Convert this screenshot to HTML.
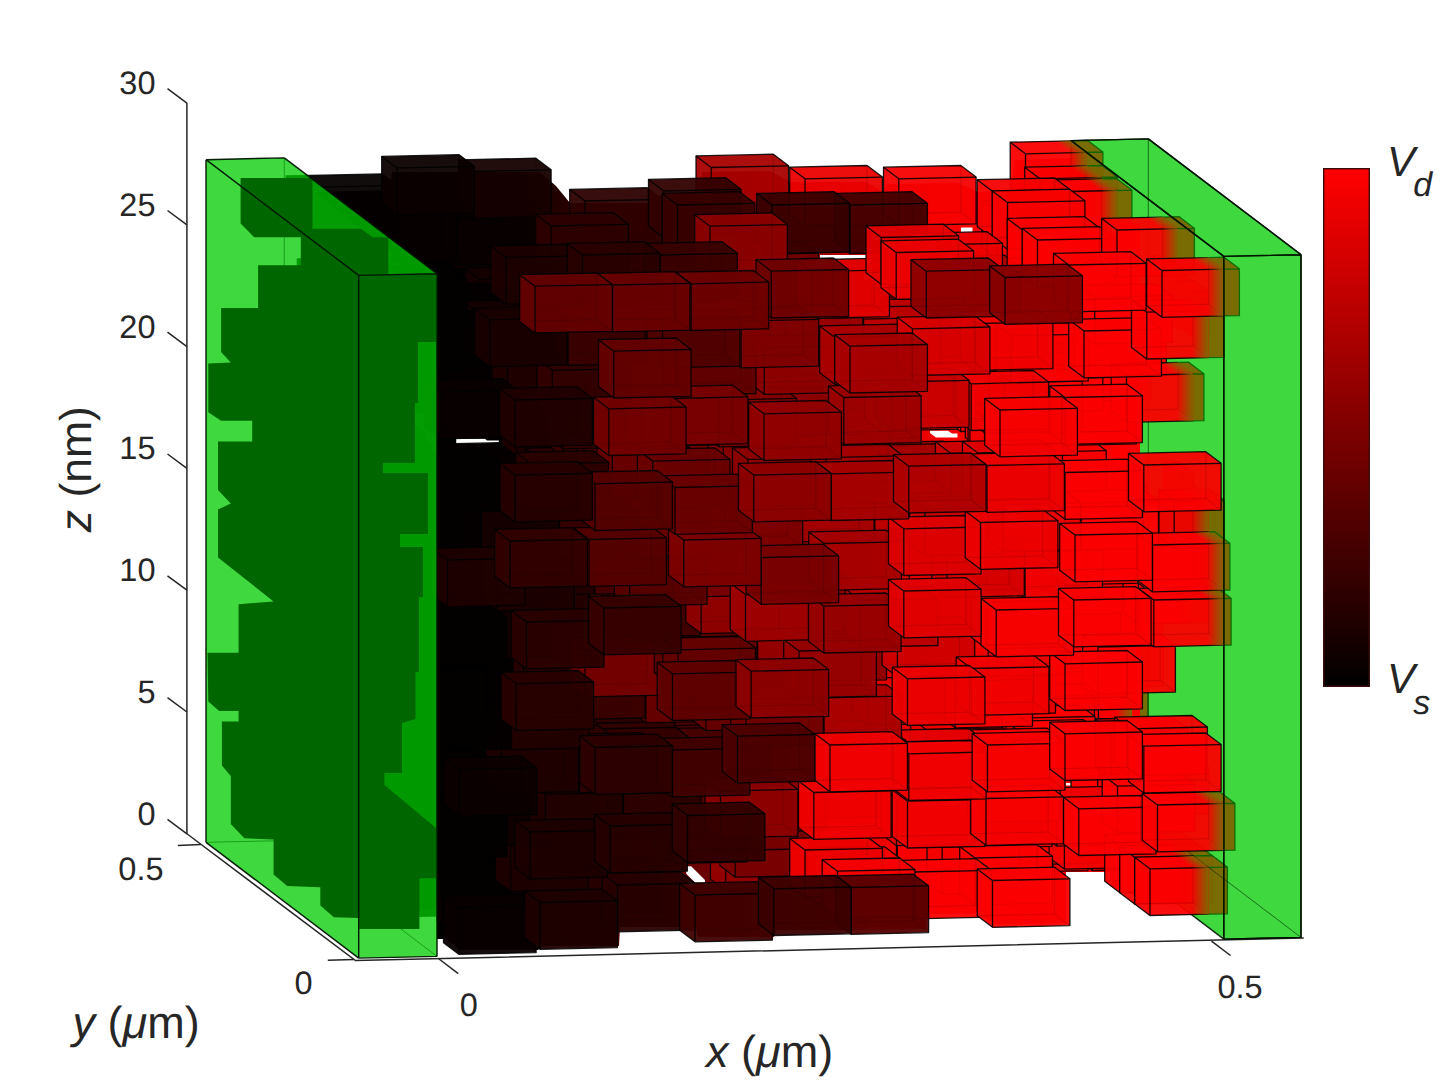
<!DOCTYPE html>
<html lang="en"><head><meta charset="utf-8"><title>Nanoparticle network potential</title>
<style>
html,body{margin:0;padding:0;background:#fff;}
body{width:1440px;height:1080px;overflow:hidden;}
svg{display:block;}
.bx .b{stroke:#000;stroke-opacity:.88;stroke-width:1.3;fill-opacity:.95;stroke-linejoin:round}
.bx .f{fill-opacity:.95}
.bx .e{stroke:#000;stroke-opacity:.88;stroke-width:1.3;fill:none}
.bx .h{stroke:#000;stroke-opacity:.13;stroke-width:1;fill:none}
text{font-family:"Liberation Sans",Arial,sans-serif;fill:#262626;text-rendering:geometricPrecision}
</style></head><body>
<svg width="1440" height="1080" viewBox="0 0 1440 1080">
<defs><linearGradient id="cb" x1="0" y1="0" x2="0" y2="1"><stop offset="0" stop-color="#ff0000"/><stop offset="1" stop-color="#000000"/></linearGradient>
<clipPath id="cl"><polygon points="358.7,958.1 437,956.4 437,273.7 284.3,157.9 206,159.7 206,842.3"/></clipPath>
<linearGradient id="og"><stop offset="0" stop-color="#806600" stop-opacity="0"/><stop offset="1" stop-color="#806600" stop-opacity="1"/></linearGradient>
<linearGradient id="bk" gradientUnits="userSpaceOnUse" x1="437" y1="0" x2="1140" y2="0"><stop offset="0.000" stop-color="#000000"/><stop offset="0.090" stop-color="#060000"/><stop offset="0.175" stop-color="#230000"/><stop offset="0.260" stop-color="#460000"/><stop offset="0.374" stop-color="#690000"/><stop offset="0.488" stop-color="#8c0000"/><stop offset="0.573" stop-color="#b40000"/><stop offset="0.659" stop-color="#e10000"/><stop offset="0.744" stop-color="#fa0000"/><stop offset="1.000" stop-color="#ff0000"/></linearGradient>
<linearGradient id="g0" gradientUnits="userSpaceOnUse" x1="1070.1" y1="0" x2="1086.3" y2="0" href="#og"/><linearGradient id="g1" gradientUnits="userSpaceOnUse" x1="1070.1" y1="152.8" x2="1076.2" y2="144.7" href="#og"/><linearGradient id="g2" gradientUnits="userSpaceOnUse" x1="1085.3" y1="0" x2="1101.6" y2="0" href="#og"/><linearGradient id="g3" gradientUnits="userSpaceOnUse" x1="1085.3" y1="177.8" x2="1091.4" y2="169.7" href="#og"/><linearGradient id="g4" gradientUnits="userSpaceOnUse" x1="1100.6" y1="0" x2="1116.9" y2="0" href="#og"/><linearGradient id="g5" gradientUnits="userSpaceOnUse" x1="1100.6" y1="190.8" x2="1106.7" y2="182.8" href="#og"/><linearGradient id="g6" gradientUnits="userSpaceOnUse" x1="1115.9" y1="0" x2="1132.1" y2="0" href="#og"/><linearGradient id="g7" gradientUnits="userSpaceOnUse" x1="1115.9" y1="823.2" x2="1122" y2="815.2" href="#og"/><linearGradient id="g8" gradientUnits="userSpaceOnUse" x1="1115.9" y1="0" x2="1132.1" y2="0" href="#og"/><linearGradient id="g9" gradientUnits="userSpaceOnUse" x1="1115.9" y1="766.1" x2="1122" y2="758" href="#og"/><linearGradient id="g10" gradientUnits="userSpaceOnUse" x1="1115.9" y1="0" x2="1132.1" y2="0" href="#og"/><linearGradient id="g11" gradientUnits="userSpaceOnUse" x1="1115.9" y1="671.7" x2="1122" y2="663.6" href="#og"/><linearGradient id="g12" gradientUnits="userSpaceOnUse" x1="1131.2" y1="0" x2="1147.4" y2="0" href="#og"/><linearGradient id="g13" gradientUnits="userSpaceOnUse" x1="1131.2" y1="353.2" x2="1137.3" y2="345.1" href="#og"/><linearGradient id="g14" gradientUnits="userSpaceOnUse" x1="1161.7" y1="0" x2="1178" y2="0" href="#og"/><linearGradient id="g15" gradientUnits="userSpaceOnUse" x1="1161.7" y1="845.1" x2="1167.8" y2="837" href="#og"/><linearGradient id="g16" gradientUnits="userSpaceOnUse" x1="1161.7" y1="0" x2="1178" y2="0" href="#og"/><linearGradient id="g17" gradientUnits="userSpaceOnUse" x1="1161.7" y1="229" x2="1167.8" y2="221" href="#og"/><linearGradient id="g18" gradientUnits="userSpaceOnUse" x1="1177" y1="0" x2="1193.2" y2="0" href="#og"/><linearGradient id="g19" gradientUnits="userSpaceOnUse" x1="1177" y1="856.6" x2="1183.1" y2="848.5" href="#og"/><linearGradient id="g20" gradientUnits="userSpaceOnUse" x1="1177" y1="0" x2="1193.2" y2="0" href="#og"/><linearGradient id="g21" gradientUnits="userSpaceOnUse" x1="1177" y1="576.4" x2="1183.1" y2="568.4" href="#og"/><linearGradient id="g22" gradientUnits="userSpaceOnUse" x1="1177" y1="0" x2="1193.2" y2="0" href="#og"/><linearGradient id="g23" gradientUnits="userSpaceOnUse" x1="1177" y1="374.4" x2="1183.1" y2="366.3" href="#og"/><linearGradient id="g24" gradientUnits="userSpaceOnUse" x1="1192.3" y1="0" x2="1208.5" y2="0" href="#og"/><linearGradient id="g25" gradientUnits="userSpaceOnUse" x1="1192.3" y1="867.8" x2="1198.4" y2="859.8" href="#og"/><linearGradient id="g26" gradientUnits="userSpaceOnUse" x1="1192.3" y1="0" x2="1208.5" y2="0" href="#og"/><linearGradient id="g27" gradientUnits="userSpaceOnUse" x1="1192.3" y1="546.4" x2="1198.4" y2="538.4" href="#og"/><linearGradient id="g28" gradientUnits="userSpaceOnUse" x1="1192.3" y1="0" x2="1208.5" y2="0" href="#og"/><linearGradient id="g29" gradientUnits="userSpaceOnUse" x1="1192.3" y1="501.1" x2="1198.4" y2="493.1" href="#og"/><linearGradient id="g30" gradientUnits="userSpaceOnUse" x1="1192.3" y1="0" x2="1208.5" y2="0" href="#og"/><linearGradient id="g31" gradientUnits="userSpaceOnUse" x1="1192.3" y1="311.2" x2="1198.4" y2="303.2" href="#og"/><linearGradient id="g32" gradientUnits="userSpaceOnUse" x1="1207.5" y1="0" x2="1223.8" y2="0" href="#og"/><linearGradient id="g33" gradientUnits="userSpaceOnUse" x1="1207.5" y1="803.9" x2="1213.6" y2="795.9" href="#og"/><linearGradient id="g34" gradientUnits="userSpaceOnUse" x1="1207.5" y1="0" x2="1223.8" y2="0" href="#og"/><linearGradient id="g35" gradientUnits="userSpaceOnUse" x1="1207.5" y1="598.8" x2="1213.6" y2="590.8" href="#og"/><linearGradient id="g36" gradientUnits="userSpaceOnUse" x1="1207.5" y1="0" x2="1223.8" y2="0" href="#og"/><linearGradient id="g37" gradientUnits="userSpaceOnUse" x1="1207.5" y1="543.8" x2="1213.6" y2="535.7" href="#og"/><linearGradient id="g38" gradientUnits="userSpaceOnUse" x1="1207.5" y1="0" x2="1223.8" y2="0" href="#og"/><linearGradient id="g39" gradientUnits="userSpaceOnUse" x1="1207.5" y1="269.5" x2="1213.6" y2="261.5" href="#og"/>
</defs>
<rect width="1440" height="1080" fill="#fff"/>
<g stroke="#262626" stroke-width="1.5" fill="none" stroke-linecap="butt">
<path d="M186.9,103.1V833.75L355.5,960.6L1303.75,938"/>
<path d="M186.9,833.8 l-19.4,-14.4"/>
<path d="M186.9,712 l-19.4,-14.4"/>
<path d="M186.9,590.2 l-19.4,-14.4"/>
<path d="M186.9,468.4 l-19.4,-14.4"/>
<path d="M186.9,346.6 l-19.4,-14.4"/>
<path d="M186.9,224.9 l-19.4,-14.4"/>
<path d="M186.9,103.1 l-19.4,-14.4"/>
<path d="M200.8,844.4L177.8,845.5"/><path d="M354,959.6L327.8,960.3"/>
<path d="M438.75,958.75l19.5,14.8"/><path d="M1211.5,941.2l19,14.3"/>
</g>
<polygon points="1223.8,939.1 1301,937.4 1301,254.7 1148.3,138.9 1071,140.6 1071,823.3" fill="#00cc00" fill-opacity=".5"/>
<g class="bx">
<path class="f" fill="#f80000" d="M1086.3,685.9 1102.1,685.6 1102.1,638.8 1086.8,627.3 1071,627.6 1071,674.4Z"/><path class="e" d="M1086.3,685.9 1102.1,685.6 1102.1,638.8 1086.8,627.3 1071,627.6M1086.3,639.2 1102.1,638.8"/>
<path class="f" fill="#f10000" d="M1086.3,631.4 1102.1,631.1 1102.1,584.3 1086.8,572.7 1071,573.1 1071,619.8Z"/><path class="e" d="M1086.3,631.4 1102.1,631.1 1102.1,584.3 1086.8,572.7 1071,573.1M1086.3,584.6 1102.1,584.3"/>
<path class="f" fill="#ef0000" d="M1086.3,588.2 1102.1,587.8 1102.1,541.1 1086.8,529.5 1071,529.8 1071,576.6Z"/><path class="e" d="M1086.3,588.2 1102.1,587.8 1102.1,541.1 1086.8,529.5 1071,529.8M1086.3,541.4 1102.1,541.1"/>
<path class="f" fill="#f20000" d="M1086.3,393.1 1102.1,392.7 1102.1,346 1086.8,334.4 1071,334.7 1071,381.5Z"/><path class="e" d="M1086.3,393.1 1102.1,392.7 1102.1,346 1086.8,334.4 1071,334.7M1086.3,346.3 1102.1,346"/>
<path class="f" fill="#f90000" d="M1086.3,296.3 1102.1,296 1102.1,249.2 1086.8,237.6 1071,238 1071,284.7Z"/><path class="e" d="M1086.3,296.3 1102.1,296 1102.1,249.2 1086.8,237.6 1071,238M1086.3,249.6 1102.1,249.2"/>
<path class="f" fill="#fa0000" d="M1086.3,199.2 1102.9,198.8 1102.9,152 1087.6,140.5 1071,140.8 1071,187.6Z"/><path class="e" d="M1086.3,199.2 1102.9,198.8 1102.9,152 1087.6,140.5 1071,140.8M1086.3,152.4 1102.9,152"/>
<path class="f" fill="#ec0000" d="M1101.6,846.5 1117.4,846.1 1117.4,799.4 1102.1,787.8 1086.3,788.1 1086.3,834.9Z"/><path class="e" d="M1101.6,846.5 1117.4,846.1 1117.4,799.4 1102.1,787.8 1086.3,788.1M1101.6,799.7 1117.4,799.4"/>
<path class="f" fill="#e80000" d="M1101.6,743.2 1117.4,742.9 1117.4,696.1 1102.1,684.5 1086.3,684.9 1086.3,731.6Z"/><path class="e" d="M1101.6,743.2 1117.4,742.9 1117.4,696.1 1102.1,684.5 1086.3,684.9M1101.6,696.4 1117.4,696.1"/>
<path class="f" fill="#ff0000" d="M1101.6,647.1 1117.4,646.7 1117.4,600 1102.1,588.4 1086.3,588.7 1086.3,635.5Z"/><path class="e" d="M1101.6,647.1 1117.4,646.7 1117.4,600 1102.1,588.4 1086.3,588.7M1101.6,600.3 1117.4,600"/>
<path class="f" fill="#f30000" d="M1101.6,595.6 1117.4,595.3 1117.4,548.5 1102.1,537 1086.3,537.3 1086.3,584.1Z"/><path class="e" d="M1101.6,595.6 1117.4,595.3 1117.4,548.5 1102.1,537 1086.3,537.3M1101.6,548.9 1117.4,548.5"/>
<path class="f" fill="#cf0000" d="M1101.6,358 1117.4,357.7 1117.4,310.9 1102.1,299.3 1086.3,299.7 1086.3,346.4Z"/><path class="e" d="M1101.6,358 1117.4,357.7 1117.4,310.9 1102.1,299.3 1086.3,299.7M1101.6,311.2 1117.4,310.9"/>
<path class="f" fill="#d10000" d="M1101.6,309.3 1114.1,309.1 1114.1,262.3 1098.8,250.7 1086.3,251 1086.3,297.8Z"/><path class="e" d="M1101.6,309.3 1114.1,309.1 1114.1,262.3 1098.8,250.7 1086.3,251M1101.6,262.6 1114.1,262.3"/>
<path class="f" fill="#fa0000" d="M1101.6,224.2 1117.4,223.8 1117.4,177 1102.1,165.5 1086.3,165.8 1086.3,212.6Z"/><path class="e" d="M1101.6,224.2 1117.4,223.8 1117.4,177 1102.1,165.5 1086.3,165.8M1101.6,177.4 1117.4,177"/>
<path class="f" fill="#fe0000" d="M1116.9,858 1132.7,857.7 1132.7,810.9 1117.4,799.4 1101.6,799.7 1101.6,846.5Z"/><path class="e" d="M1116.9,858 1132.7,857.7 1132.7,810.9 1117.4,799.4 1101.6,799.7M1116.9,811.3 1132.7,810.9"/>
<path class="f" fill="#f40000" d="M1116.9,707.3 1132.7,707 1132.7,660.2 1117.4,648.6 1101.6,649 1101.6,695.7Z"/><path class="e" d="M1116.9,707.3 1132.7,707 1132.7,660.2 1117.4,648.6 1101.6,649M1116.9,660.6 1132.7,660.2"/>
<path class="f" fill="#f50000" d="M1116.9,655.3 1119.3,655.2 1119.3,608.5 1104,596.9 1101.6,596.9 1101.6,643.7Z"/><path class="e" d="M1116.9,655.3 1119.3,655.2 1119.3,608.5 1104,596.9 1101.6,596.9M1116.9,608.5 1119.3,608.5"/>
<path class="f" fill="#fd0000" d="M1116.9,608.3 1132,608 1132,561.2 1116.8,549.6 1101.6,550 1101.6,596.7Z"/><path class="e" d="M1116.9,608.3 1132,608 1132,561.2 1116.8,549.6 1101.6,550M1116.9,561.5 1132,561.2"/>
<path class="f" fill="#f20000" d="M1116.9,563.7 1127.9,563.4 1127.9,516.7 1112.6,505.1 1101.6,505.3 1101.6,552.1Z"/><path class="e" d="M1116.9,563.7 1127.9,563.4 1127.9,516.7 1112.6,505.1 1101.6,505.3M1116.9,516.9 1127.9,516.7"/>
<path class="f" fill="#f60000" d="M1116.9,521.3 1120.5,521.3 1120.5,474.5 1105.3,462.9 1101.6,463 1101.6,509.8Z"/><path class="e" d="M1116.9,521.3 1120.5,521.3 1120.5,474.5 1105.3,462.9 1101.6,463M1116.9,474.6 1120.5,474.5"/>
<path class="f" fill="#f70000" d="M1116.9,371.5 1132.7,371.1 1132.7,324.4 1117.4,312.8 1101.6,313.1 1101.6,359.9Z"/><path class="e" d="M1116.9,371.5 1132.7,371.1 1132.7,324.4 1117.4,312.8 1101.6,313.1M1116.9,324.7 1132.7,324.4"/>
<path class="f" fill="#f00000" d="M1116.9,329.2 1132.7,328.9 1132.7,282.1 1117.4,270.6 1101.6,270.9 1101.6,317.7Z"/><path class="e" d="M1116.9,329.2 1132.7,328.9 1132.7,282.1 1117.4,270.6 1101.6,270.9M1116.9,282.5 1132.7,282.1"/>
<path class="f" fill="#fa0000" d="M1116.9,237.2 1131.9,236.9 1131.9,190.1 1116.6,178.6 1101.6,178.9 1101.6,225.7Z"/><path class="e" d="M1116.9,237.2 1131.9,236.9 1131.9,190.1 1116.6,178.6 1101.6,178.9M1116.9,190.5 1131.9,190.1"/>
<path class="f" fill="#ff0000" d="M1132.1,869.6 1147.9,869.3 1147.9,822.5 1132.7,810.9 1116.9,811.3 1116.9,858Z"/><path class="e" d="M1132.1,869.6 1147.9,869.3 1147.9,822.5 1132.7,810.9 1116.9,811.3M1132.1,822.9 1147.9,822.5"/>
<path class="f" fill="#ea0000" d="M1132.1,861.7 1147.9,861.3 1147.9,814.5 1132.7,803 1116.9,803.3 1116.9,850.1Z"/><path class="e" d="M1132.1,861.7 1147.9,861.3 1147.9,814.5 1132.7,803 1116.9,803.3M1132.1,814.9 1147.9,814.5"/>
<path class="f" fill="#e90000" d="M1132.1,812.5 1147.9,812.1 1147.9,765.4 1132.7,753.8 1116.9,754.1 1116.9,800.9Z"/><path class="e" d="M1132.1,812.5 1147.9,812.1 1147.9,765.4 1132.7,753.8 1116.9,754.1M1132.1,765.7 1147.9,765.4"/>
<path class="f" fill="#ff0000" d="M1132.1,766.1 1147.9,765.7 1147.9,719 1132.7,707.4 1116.9,707.8 1116.9,754.5Z"/><path class="e" d="M1132.1,766.1 1147.9,765.7 1147.9,719 1132.7,707.4 1116.9,707.8M1132.1,719.3 1147.9,719"/>
<path class="f" fill="#fa0000" d="M1132.1,718.1 1147.9,717.7 1147.9,671 1132.7,659.4 1116.9,659.7 1116.9,706.5Z"/><path class="e" d="M1132.1,718.1 1147.9,717.7 1147.9,671 1132.7,659.4 1116.9,659.7M1132.1,671.3 1147.9,671"/>
<path class="f" fill="#f90000" d="M1132.1,626 1147.9,625.6 1147.9,578.9 1132.7,567.3 1116.9,567.6 1116.9,614.4Z"/><path class="e" d="M1132.1,626 1147.9,625.6 1147.9,578.9 1132.7,567.3 1116.9,567.6M1132.1,579.2 1147.9,578.9"/>
<path class="f" fill="#fc0000" d="M1132.1,570.3 1144.6,570 1144.6,523.2 1129.3,511.7 1116.9,511.9 1116.9,558.7Z"/><path class="e" d="M1132.1,570.3 1144.6,570 1144.6,523.2 1129.3,511.7 1116.9,511.9M1132.1,523.5 1144.6,523.2"/>
<path class="f" fill="#ff0000" d="M1132.1,532.4 1147.9,532 1147.9,485.3 1132.7,473.7 1116.9,474 1116.9,520.8Z"/><path class="e" d="M1132.1,532.4 1147.9,532 1147.9,485.3 1132.7,473.7 1116.9,474M1132.1,485.6 1147.9,485.3"/>
<path class="f" fill="#ed0000" d="M1132.1,381.9 1147.9,381.5 1147.9,334.8 1132.7,323.2 1116.9,323.5 1116.9,370.3Z"/><path class="e" d="M1132.1,381.9 1147.9,381.5 1147.9,334.8 1132.7,323.2 1116.9,323.5M1132.1,335.1 1147.9,334.8"/>
<path class="f" fill="#d70000" d="M1132.1,338.8 1133,338.8 1133,292 1117.7,280.5 1116.9,280.5 1116.9,327.2Z"/><path class="e" d="M1132.1,338.8 1133,338.8 1133,292 1117.7,280.5 1116.9,280.5M1132.1,292 1133,292"/>
<path class="f" fill="#f20000" d="M1147.4,776.9 1163.2,776.5 1163.2,729.7 1147.9,718.2 1132.1,718.5 1132.1,765.3Z"/><path class="e" d="M1147.4,776.9 1163.2,776.5 1163.2,729.7 1147.9,718.2 1132.1,718.5M1147.4,730.1 1163.2,729.7"/>
<path class="f" fill="#ff0000" d="M1147.4,686.5 1163.2,686.1 1163.2,639.4 1147.9,627.8 1132.1,628.1 1132.1,674.9Z"/><path class="e" d="M1147.4,686.5 1163.2,686.1 1163.2,639.4 1147.9,627.8 1132.1,628.1M1147.4,639.7 1163.2,639.4"/>
<path class="f" fill="#fa0000" d="M1147.4,633.3 1163.2,632.9 1163.2,586.1 1147.9,574.6 1132.1,574.9 1132.1,621.7Z"/><path class="e" d="M1147.4,633.3 1163.2,632.9 1163.2,586.1 1147.9,574.6 1132.1,574.9M1147.4,586.5 1163.2,586.1"/>
<path class="f" fill="#fe0000" d="M1147.4,399.6 1150.9,399.5 1150.9,352.8 1135.7,341.2 1132.1,341.3 1132.1,388Z"/><path class="e" d="M1147.4,399.6 1150.9,399.5 1150.9,352.8 1135.7,341.2 1132.1,341.3M1147.4,352.8 1150.9,352.8"/>
<path class="f" fill="#ff0000" d="M1162.7,888.3 1178.5,887.9 1178.5,841.2 1163.2,829.6 1147.4,829.9 1147.4,876.7Z"/><path class="e" d="M1162.7,888.3 1178.5,887.9 1178.5,841.2 1163.2,829.6 1147.4,829.9M1162.7,841.5 1178.5,841.2"/>
<path class="f" fill="#f70000" d="M1162.7,789.2 1178.5,788.8 1178.5,742.1 1163.2,730.5 1147.4,730.8 1147.4,777.6Z"/><path class="e" d="M1162.7,789.2 1178.5,788.8 1178.5,742.1 1163.2,730.5 1147.4,730.8M1162.7,742.4 1178.5,742.1"/>
<path class="f" fill="#f50000" d="M1162.7,605.6 1178.5,605.2 1178.5,558.5 1163.2,546.9 1147.4,547.2 1147.4,594Z"/><path class="e" d="M1162.7,605.6 1178.5,605.2 1178.5,558.5 1163.2,546.9 1147.4,547.2M1162.7,558.8 1178.5,558.5"/>
<path class="f" fill="#fb0000" d="M1162.7,555.7 1178.5,555.4 1178.5,508.6 1163.2,497 1147.4,497.4 1147.4,544.1Z"/><path class="e" d="M1162.7,555.7 1178.5,555.4 1178.5,508.6 1163.2,497 1147.4,497.4M1162.7,509 1178.5,508.6"/>
<path class="f" fill="#fc0000" d="M1162.7,314.6 1178.5,314.2 1178.5,267.5 1163.2,255.9 1147.4,256.2 1147.4,303Z"/><path class="e" d="M1162.7,314.6 1178.5,314.2 1178.5,267.5 1163.2,255.9 1147.4,256.2M1162.7,267.8 1178.5,267.5"/>
<path class="f" fill="#fa0000" d="M1178,891.5 1197.4,891.1 1197.4,844.3 1182.1,832.7 1162.7,833.2 1162.7,879.9Z"/><path class="e" d="M1178,891.5 1197.4,891.1 1197.4,844.3 1182.1,832.7 1162.7,833.2M1178,844.7 1197.4,844.3"/>
<path class="f" fill="#ff0000" d="M1178,808.1 1193.8,807.8 1193.8,761 1178.5,749.5 1162.7,749.8 1162.7,796.6Z"/><path class="e" d="M1178,808.1 1193.8,807.8 1193.8,761 1178.5,749.5 1162.7,749.8M1178,761.4 1193.8,761"/>
<path class="f" fill="#fc0000" d="M1178,613.1 1193.8,612.8 1193.8,566 1178.5,554.5 1162.7,554.8 1162.7,601.6Z"/><path class="e" d="M1178,613.1 1193.8,612.8 1193.8,566 1178.5,554.5 1162.7,554.8M1178,566.4 1193.8,566"/>
<path class="f" fill="#ed0000" d="M1178,570.2 1193.8,569.9 1193.8,523.1 1178.5,511.5 1162.7,511.9 1162.7,558.6Z"/><path class="e" d="M1178,570.2 1193.8,569.9 1193.8,523.1 1178.5,511.5 1162.7,511.9M1178,523.5 1193.8,523.1"/>
<path class="f" fill="#ec0000" d="M1178,520.5 1193.8,520.2 1193.8,473.4 1178.5,461.8 1162.7,462.2 1162.7,508.9Z"/><path class="e" d="M1178,520.5 1193.8,520.2 1193.8,473.4 1178.5,461.8 1162.7,462.2M1178,473.8 1193.8,473.4"/>
<path class="f" fill="#ff0000" d="M1178,329.6 1193.8,329.3 1193.8,282.5 1178.5,270.9 1162.7,271.3 1162.7,318Z"/><path class="e" d="M1178,329.6 1193.8,329.3 1193.8,282.5 1178.5,270.9 1162.7,271.3M1178,282.8 1193.8,282.5"/>
<path class="f" fill="#fa0000" d="M1178,275.4 1194.4,275.1 1194.4,228.3 1179.1,216.7 1162.7,217.1 1162.7,263.8Z"/><path class="e" d="M1178,275.4 1194.4,275.1 1194.4,228.3 1179.1,216.7 1162.7,217.1M1178,228.7 1194.4,228.3"/>
<path class="f" fill="#fa0000" d="M1193.2,903 1212.4,902.6 1212.4,855.8 1197.1,844.2 1178,844.6 1178,891.4Z"/><path class="e" d="M1193.2,903 1212.4,902.6 1212.4,855.8 1197.1,844.2 1178,844.6M1193.2,856.2 1212.4,855.8"/>
<path class="f" fill="#f80000" d="M1193.2,814.4 1209,814 1209,767.3 1193.8,755.7 1178,756.1 1178,802.8Z"/><path class="e" d="M1193.2,814.4 1209,814 1209,767.3 1193.8,755.7 1178,756.1M1193.2,767.6 1209,767.3"/>
<path class="f" fill="#ff0000" d="M1193.2,622.8 1209,622.5 1209,575.7 1193.8,564.1 1178,564.5 1178,611.2Z"/><path class="e" d="M1193.2,622.8 1209,622.5 1209,575.7 1193.8,564.1 1178,564.5M1193.2,576 1209,575.7"/>
<path class="f" fill="#ff0000" d="M1193.2,581 1209,580.7 1209,533.9 1193.8,522.3 1178,522.7 1178,569.4Z"/><path class="e" d="M1193.2,581 1209,580.7 1209,533.9 1193.8,522.3 1178,522.7M1193.2,534.2 1209,533.9"/>
<path class="f" fill="#f90000" d="M1193.2,534.4 1196.1,534.4 1196.1,487.6 1180.9,476 1178,476.1 1178,522.8Z"/><path class="e" d="M1193.2,534.4 1196.1,534.4 1196.1,487.6 1180.9,476 1178,476.1M1193.2,487.7 1196.1,487.6"/>
<path class="f" fill="#fa0000" d="M1193.2,420.8 1203.9,420.6 1203.9,373.8 1188.6,362.2 1178,362.5 1178,409.2Z"/><path class="e" d="M1193.2,420.8 1203.9,420.6 1203.9,373.8 1188.6,362.2 1178,362.5M1193.2,374 1203.9,373.8"/>
<path class="f" fill="#f40000" d="M1193.2,338.9 1209,338.6 1209,291.8 1193.8,280.3 1178,280.6 1178,327.4Z"/><path class="e" d="M1193.2,338.9 1209,338.6 1209,291.8 1193.8,280.3 1178,280.6M1193.2,292.2 1209,291.8"/>
<path class="f" fill="#fa0000" d="M1208.5,914.2 1227.4,913.8 1227.4,867.1 1212.1,855.5 1193.2,855.9 1193.2,902.7Z"/><path class="e" d="M1208.5,914.2 1227.4,913.8 1227.4,867.1 1212.1,855.5 1193.2,855.9M1208.5,867.5 1227.4,867.1"/>
<path class="f" fill="#ff0000" d="M1208.5,592.8 1224.3,592.5 1224.3,545.7 1209,534.1 1193.2,534.5 1193.2,581.3Z"/><path class="e" d="M1208.5,592.8 1224.3,592.5 1224.3,545.7 1209,534.1 1193.2,534.5M1208.5,546.1 1224.3,545.7"/>
<path class="f" fill="#ef0000" d="M1208.5,547.5 1224.3,547.2 1224.3,500.4 1209,488.9 1193.2,489.2 1193.2,536Z"/><path class="e" d="M1208.5,547.5 1224.3,547.2 1224.3,500.4 1209,488.9 1193.2,489.2M1208.5,500.8 1224.3,500.4"/>
<path class="f" fill="#fa0000" d="M1208.5,357.7 1224.1,357.3 1224.1,310.5 1208.9,299 1193.2,299.3 1193.2,346.1Z"/><path class="e" d="M1208.5,357.7 1224.1,357.3 1224.1,310.5 1208.9,299 1193.2,299.3M1208.5,310.9 1224.1,310.5"/>
<path class="f" fill="#fa0000" d="M1223.8,850.3 1234.9,850.1 1234.9,803.3 1219.6,791.7 1208.5,792 1208.5,838.7Z"/><path class="e" d="M1223.8,850.3 1234.9,850.1 1234.9,803.3 1219.6,791.7 1208.5,792M1223.8,803.5 1234.9,803.3"/>
<path class="f" fill="#fa0000" d="M1223.8,645.2 1231.1,645.1 1231.1,598.3 1215.8,586.7 1208.5,586.9 1208.5,633.6Z"/><path class="e" d="M1223.8,645.2 1231.1,645.1 1231.1,598.3 1215.8,586.7 1208.5,586.9M1223.8,598.5 1231.1,598.3"/>
<path class="f" fill="#fa0000" d="M1223.8,590.2 1229.9,590.1 1229.9,543.3 1214.6,531.7 1208.5,531.9 1208.5,578.6Z"/><path class="e" d="M1223.8,590.2 1229.9,590.1 1229.9,543.3 1214.6,531.7 1208.5,531.9M1223.8,543.4 1229.9,543.3"/>
<path class="f" fill="#fa0000" d="M1223.8,315.9 1239.4,315.6 1239.4,268.8 1224.1,257.2 1208.5,257.6 1208.5,304.3Z"/><path class="e" d="M1223.8,315.9 1239.4,315.6 1239.4,268.8 1224.1,257.2 1208.5,257.6M1223.8,269.1 1239.4,268.8"/>
</g>
<polygon points="1223.8,939.1 1301,937.4 1301,254.7 1148.3,138.9 1071,140.6 1071,823.3" fill="#00cc00" fill-opacity=".5"/>
<path fill="url(#bk)" fill-rule="evenodd" d="M437,292 316,192 390,190 392,172 540,172 556,186 570,203 650,203 652,196 700,194 702,172 770,171 790,182 866,182 884,192 886,184 958,183 978,192 1012,190 1014,160 1080,158 1080,180 1100,182 1100,222 1140,224 1140,898 1110,886 1110,872 1066,872 1066,923 994,924 980,914 926,914 926,929 852,930 776,930 774,937 698,937 696,927 620,927 619,946 542,946 538,950 460,950 446,939 437,939ZM456.2,438.8 485,438.8 487,440.5 498.8,440.5 498.8,442.5 485,443.8 456.2,443.8ZM820,255 866,255 866,260 820,260ZM930,430.8 948,430.8 952,433.5 957.5,433.5 957.5,437.5 936,437.5 930,433ZM961,227.5 972.5,227.5 972.5,232.5 961,232.5ZM1066,783 1071,783 1071,785.5 1066,785.5ZM686.2,866.2 691.2,866.2 705,880 705,882.5 695,882.5 686.2,873.8Z"/>
<path fill="none" stroke="#001400" stroke-opacity=".9" stroke-width="1.4" d="M1223.8,939.1 1301,937.4M1223.8,939.1 1071,823.3M1223.8,939.1 1223.8,256.4M1223.8,256.4 1301,254.7M1223.8,256.4 1071,140.6M1071,823.3 1071,140.6M1071,140.6 1148.3,138.9M1301,937.4 1301,254.7M1301,254.7 1148.3,138.9"/>
<path fill="none" stroke="#002800" stroke-opacity=".6" stroke-width="1" d="M1071,823.3 1148.3,821.6M1301,937.4 1148.3,821.6M1148.3,821.6 1148.3,138.9"/>
<g class="bx">
<path class="b" fill="#030000" d="M327.5,837 404.9,835.3 404.9,788.6 389.6,777 312.2,778.7 312.2,825.5Z"/><path class="e" d="M327.5,837 327.5,790.3 404.9,788.6M327.5,790.3 312.2,778.7"/>
<path class="b" fill="#030000" d="M299.7,791.1 355.1,789.9 355.1,743.2 339.9,731.6 284.5,732.8 284.5,779.6Z"/><path class="e" d="M299.7,791.1 299.7,744.4 355.1,743.2M299.7,744.4 284.5,732.8"/>
<path class="b" fill="#030000" d="M299.7,743.7 340.3,742.8 340.3,696 325,684.4 284.5,685.3 284.5,732.1Z"/><path class="e" d="M299.7,743.7 299.7,696.9 340.3,696M299.7,696.9 284.5,685.3"/>
<path class="b" fill="#030000" d="M319.3,698.7 396.6,697 396.6,650.2 381.4,638.6 304,640.3 304,687.1Z"/><path class="e" d="M319.3,698.7 319.3,651.9 396.6,650.2M319.3,651.9 304,640.3"/>
<path class="b" fill="#030000" d="M323.3,602.4 400.7,600.7 400.7,554 385.4,542.4 308.1,544.1 308.1,590.9Z"/><path class="e" d="M323.3,602.4 323.3,555.7 400.7,554M323.3,555.7 308.1,544.1"/>
<path class="b" fill="#030000" d="M299.7,553 361.7,551.7 361.7,504.9 346.4,493.3 284.5,494.7 284.5,541.5Z"/><path class="e" d="M299.7,553 299.7,506.3 361.7,504.9M299.7,506.3 284.5,494.7"/>
<path class="b" fill="#030000" d="M299.7,508 360.7,506.7 360.7,459.9 345.4,448.3 284.5,449.7 284.5,496.4Z"/><path class="e" d="M299.7,508 299.7,461.2 360.7,459.9M299.7,461.2 284.5,449.7"/>
<path class="b" fill="#030000" d="M299.7,360.4 365.5,358.9 365.5,312.2 350.2,300.6 284.5,302 284.5,348.8Z"/><path class="e" d="M299.7,360.4 299.7,313.6 365.5,312.2M299.7,313.6 284.5,302"/>
<path class="b" fill="#030000" d="M312.6,317.4 390,315.7 390,268.9 374.7,257.3 297.3,259 297.3,305.8Z"/><path class="e" d="M312.6,317.4 312.6,270.6 390,268.9M312.6,270.6 297.3,259"/>
<path class="b" fill="#030000" d="M390.7,315.7 468.1,314 468.1,267.2 452.8,255.6 375.5,257.3 375.5,304.1Z"/><path class="e" d="M390.7,315.7 390.7,268.9 468.1,267.2M390.7,268.9 375.5,257.3"/>
<path class="b" fill="#100000" d="M468.9,311.5 546.3,309.8 546.3,263.1 531,251.5 453.6,253.2 453.6,300Z"/><path class="e" d="M468.9,311.5 468.9,264.8 546.3,263.1M468.9,264.8 453.6,253.2"/>
<path class="b" fill="#f40000" d="M997.3,258.6 1074.7,256.9 1074.7,210.1 1059.4,198.6 982,200.3 982,247Z"/><path class="e" d="M997.3,258.6 997.3,211.8 1074.7,210.1M997.3,211.8 982,200.3"/>
<path class="b" fill="#080000" d="M456,264.8 533.4,263.1 533.4,216.3 518.1,204.7 440.7,206.4 440.7,253.2Z"/><path class="e" d="M456,264.8 456,218 533.4,216.3M456,218 440.7,206.4"/><path class="h" d="M440.7,253.2 518.1,251.5 533.4,263.1M518.1,251.5 518.1,204.7"/>
<path class="b" fill="#060000" d="M379,261.8 456.4,260.1 456.4,213.3 441.1,201.7 363.7,203.4 363.7,250.2Z"/><path class="e" d="M379,261.8 379,215 456.4,213.3M379,215 363.7,203.4"/><path class="h" d="M363.7,250.2 441.1,248.5 456.4,260.1M441.1,248.5 441.1,201.7"/>
<path class="b" fill="#040000" d="M301.5,234.4 397.4,232.3 397.4,185.5 382.2,173.9 286.2,176 286.2,222.8Z"/><path class="e" d="M301.5,234.4 301.5,187.6 397.4,185.5M301.5,187.6 286.2,176"/><path class="h" d="M286.2,222.8 382.2,220.7 397.4,232.3M382.2,220.7 382.2,173.9"/>
<path class="b" fill="#a80000" d="M711.2,214.3 788.6,212.6 788.6,165.8 773.4,154.2 696,155.9 696,202.7Z"/><path class="e" d="M711.2,214.3 711.2,167.5 788.6,165.8M711.2,167.5 696,155.9"/><path class="h" d="M696,202.7 773.4,201 788.6,212.6M773.4,201 773.4,154.2"/>
<path class="b" fill="#160000" d="M473.8,218.3 551.1,216.6 551.1,169.8 535.9,158.2 458.5,159.9 458.5,206.7Z"/><path class="e" d="M473.8,218.3 473.8,171.5 551.1,169.8M473.8,171.5 458.5,159.9"/><path class="h" d="M458.5,206.7 535.9,205 551.1,216.6M535.9,205 535.9,158.2"/>
<path class="b" fill="#0c0000" d="M397,214.8 474.4,213.1 474.4,166.3 459.1,154.7 381.7,156.4 381.7,203.2Z"/><path class="e" d="M397,214.8 397,168 474.4,166.3M397,168 381.7,156.4"/><path class="h" d="M381.7,203.2 459.1,201.5 474.4,213.1M459.1,201.5 459.1,154.7"/>
<path class="f" fill="#fa0000" d="M1025.5,200.5 1086.3,199.2 1086.3,152.4 1071,140.8 1010.2,142.2 1010.2,188.9Z"/><path class="e" d="M1071,140.8 1010.2,142.2 1010.2,188.9 1025.5,200.5 1086.3,199.2M1025.5,200.5 1025.5,153.8 1086.3,152.4M1025.5,153.8 1010.2,142.2"/><path class="h" d="M1010.2,188.9 1071,187.6 1086.3,199.2M1071,187.6 1071,140.8"/>
<polygon fill="url(#g0)" points="1070.1,199.5 1086.3,199.2 1086.3,152.4 1070.1,152.8"/><polygon fill="url(#g1)" points="1070.1,152.8 1086.3,152.4 1071,140.8 1054.8,141.2"/>
<path class="b" fill="#030000" d="M343.2,863.1 420.6,861.4 420.6,814.7 405.3,803.1 327.9,804.8 327.9,851.6Z"/><path class="e" d="M343.2,863.1 343.2,816.4 420.6,814.7M343.2,816.4 327.9,804.8"/>
<path class="b" fill="#030000" d="M334.5,808.7 411.9,807 411.9,760.3 396.6,748.7 319.3,750.4 319.3,797.1Z"/><path class="e" d="M334.5,808.7 334.5,762 411.9,760.3M334.5,762 319.3,750.4"/>
<path class="b" fill="#030000" d="M321.5,755.7 398.9,754 398.9,707.3 383.6,695.7 306.2,697.4 306.2,744.1Z"/><path class="e" d="M321.5,755.7 321.5,709 398.9,707.3M321.5,709 306.2,697.4"/>
<path class="b" fill="#030000" d="M315,667.7 363.3,666.7 363.3,619.9 348,608.3 299.7,609.4 299.7,656.2Z"/><path class="e" d="M315,667.7 315,621 363.3,619.9M315,621 299.7,609.4"/>
<path class="b" fill="#030000" d="M316.1,615.9 393.4,614.2 393.4,567.4 378.2,555.8 300.8,557.5 300.8,604.3Z"/><path class="e" d="M316.1,615.9 316.1,569.1 393.4,567.4M316.1,569.1 300.8,557.5"/>
<path class="b" fill="#030000" d="M329.9,515.6 407.2,513.9 407.2,467.2 392,455.6 314.6,457.3 314.6,504.1Z"/><path class="e" d="M329.9,515.6 329.9,468.9 407.2,467.2M329.9,468.9 314.6,457.3"/>
<path class="b" fill="#a40000" d="M881.4,501.3 958.8,499.6 958.8,452.8 943.5,441.2 866.1,442.9 866.1,489.7Z"/><path class="e" d="M881.4,501.3 881.4,454.5 958.8,452.8M881.4,454.5 866.1,442.9"/>
<path class="b" fill="#030000" d="M318.1,467.2 395.5,465.5 395.5,418.7 380.2,407.2 302.9,408.9 302.9,455.6Z"/><path class="e" d="M318.1,467.2 318.1,420.4 395.5,418.7M318.1,420.4 302.9,408.9"/>
<path class="b" fill="#030000" d="M315,422.1 360.8,421.1 360.8,374.4 345.5,362.8 299.7,363.8 299.7,410.6Z"/><path class="e" d="M315,422.1 315,375.4 360.8,374.4M315,375.4 299.7,363.8"/>
<path class="b" fill="#030000" d="M315,380.9 375.2,379.6 375.2,332.8 359.9,321.3 299.7,322.6 299.7,369.3Z"/><path class="e" d="M315,380.9 315,334.2 375.2,332.8M315,334.2 299.7,322.6"/>
<path class="b" fill="#0e0000" d="M463.7,327.1 541,325.4 541,278.6 525.8,267 448.4,268.7 448.4,315.5Z"/><path class="e" d="M463.7,327.1 463.7,280.3 541,278.6M463.7,280.3 448.4,268.7"/>
<path class="b" fill="#030000" d="M315,329 384.7,327.5 384.7,280.7 369.5,269.2 299.7,270.7 299.7,317.5Z"/><path class="e" d="M315,329 315,282.3 384.7,280.7M315,282.3 299.7,270.7"/>
<path class="b" fill="#a90000" d="M942.5,315.2 1019.9,313.5 1019.9,266.8 1004.6,255.2 927.3,256.9 927.3,303.7Z"/><path class="e" d="M942.5,315.2 942.5,268.5 1019.9,266.8M942.5,268.5 927.3,256.9"/>
<path class="b" fill="#030000" d="M385.5,324.4 462.9,322.7 462.9,276 447.6,264.4 370.2,266.1 370.2,312.9Z"/><path class="e" d="M385.5,324.4 385.5,277.7 462.9,276M385.5,277.7 370.2,266.1"/>
<path class="f" fill="#fa0000" d="M1040,225.5 1101.6,224.2 1101.6,177.4 1086.3,165.8 1024.7,167.2 1024.7,213.9Z"/><path class="e" d="M1086.3,165.8 1024.7,167.2 1024.7,213.9 1040,225.5 1101.6,224.2M1040,225.5 1040,178.8 1101.6,177.4M1040,178.8 1024.7,167.2"/><path class="h" d="M1024.7,213.9 1086.3,212.6 1101.6,224.2M1086.3,212.6 1086.3,165.8"/>
<polygon fill="url(#g2)" points="1085.3,224.5 1101.6,224.2 1101.6,177.4 1085.3,177.8"/><polygon fill="url(#g3)" points="1085.3,177.8 1101.6,177.4 1086.3,165.8 1070.1,166.2"/>
<path class="b" fill="#f50000" d="M898.8,225.5 976.1,223.8 976.1,177.1 960.9,165.5 883.5,167.2 883.5,213.9Z"/><path class="e" d="M898.8,225.5 898.8,178.8 976.1,177.1M898.8,178.8 883.5,167.2"/><path class="h" d="M883.5,213.9 960.9,212.2 976.1,223.8M960.9,212.2 960.9,165.5"/>
<path class="b" fill="#eb0000" d="M805,225.5 882.4,223.8 882.4,177.1 867.1,165.5 789.7,167.2 789.7,213.9Z"/><path class="e" d="M805,225.5 805,178.8 882.4,177.1M805,178.8 789.7,167.2"/><path class="h" d="M789.7,213.9 867.1,212.2 882.4,223.8M867.1,212.2 867.1,165.5"/>
<path class="b" fill="#030000" d="M347,866.2 424.4,864.5 424.4,817.8 409.1,806.2 331.8,807.9 331.8,854.6Z"/><path class="e" d="M347,866.2 347,819.5 424.4,817.8M347,819.5 331.8,807.9"/>
<path class="b" fill="#030000" d="M330.3,771.1 365.3,770.4 365.3,723.6 350,712 315,712.8 315,759.6Z"/><path class="e" d="M330.3,771.1 330.3,724.4 365.3,723.6M330.3,724.4 315,712.8"/>
<path class="b" fill="#030000" d="M330.3,672.7 363.6,672 363.6,625.2 348.3,613.6 315,614.4 315,661.1Z"/><path class="e" d="M330.3,672.7 330.3,626 363.6,625.2M330.3,626 315,614.4"/>
<path class="b" fill="#030000" d="M330.3,628.1 367.8,627.3 367.8,580.5 352.5,568.9 315,569.7 315,616.5Z"/><path class="e" d="M330.3,628.1 330.3,581.3 367.8,580.5M330.3,581.3 315,569.7"/>
<path class="b" fill="#030000" d="M330.3,582.6 402.2,581 402.2,534.3 386.9,522.7 315,524.3 315,571Z"/><path class="e" d="M330.3,582.6 330.3,535.8 402.2,534.3M330.3,535.8 315,524.3"/>
<path class="b" fill="#030000" d="M330.3,538.7 387.6,537.5 387.6,490.7 372.4,479.1 315,480.4 315,527.1Z"/><path class="e" d="M330.3,538.7 330.3,492 387.6,490.7M330.3,492 315,480.4"/>
<path class="b" fill="#030000" d="M348.4,482.4 425.7,480.7 425.7,433.9 410.5,422.3 333.1,424 333.1,470.8Z"/><path class="e" d="M348.4,482.4 348.4,435.6 425.7,433.9M348.4,435.6 333.1,424"/>
<path class="b" fill="#030000" d="M330.3,340.3 401.3,338.8 401.3,292 386,280.5 315,282 315,328.8Z"/><path class="e" d="M330.3,340.3 330.3,293.6 401.3,292M330.3,293.6 315,282"/>
<path class="f" fill="#fa0000" d="M1070,238.3 1116.9,237.2 1116.9,190.5 1101.6,178.9 1054.7,179.9 1054.7,226.7Z"/><path class="e" d="M1101.6,178.9 1054.7,179.9 1054.7,226.7 1070,238.3 1116.9,237.2M1070,238.3 1070,191.5 1116.9,190.5M1070,191.5 1054.7,179.9"/><path class="h" d="M1054.7,226.7 1101.6,225.7 1116.9,237.2M1101.6,225.7 1101.6,178.9"/>
<polygon fill="url(#g4)" points="1100.6,237.6 1116.9,237.2 1116.9,190.5 1100.6,190.8"/><polygon fill="url(#g5)" points="1100.6,190.8 1116.9,190.5 1101.6,178.9 1085.3,179.3"/>
<path class="b" fill="#2d0000" d="M585,247.8 662.4,246.1 662.4,199.3 647.1,187.7 569.7,189.4 569.7,236.2Z"/><path class="e" d="M585,247.8 585,201 662.4,199.3M585,201 569.7,189.4"/><path class="h" d="M569.7,236.2 647.1,234.5 662.4,246.1M647.1,234.5 647.1,187.7"/>
<path class="b" fill="#f50000" d="M992.5,238 1069.9,236.3 1069.9,189.5 1054.6,178 977.2,179.7 977.2,226.4Z"/><path class="e" d="M992.5,238 992.5,191.2 1069.9,189.5M992.5,191.2 977.2,179.7"/><path class="h" d="M977.2,226.4 1054.6,224.7 1069.9,236.3M1054.6,224.7 1054.6,178"/>
<path class="b" fill="#320000" d="M663.8,237.8 741.1,236.1 741.1,189.3 725.8,177.7 648.5,179.4 648.5,226.2Z"/><path class="e" d="M663.8,237.8 663.8,191 741.1,189.3M663.8,191 648.5,179.4"/><path class="h" d="M648.5,226.2 725.8,224.5 741.1,236.1M725.8,224.5 725.8,177.7"/>
<path class="f" fill="#ff0000" d="M1092.3,870.5 1132.1,869.6 1132.1,822.9 1116.9,811.3 1077,812.2 1077,858.9Z"/><path class="e" d="M1116.9,811.3 1077,812.2 1077,858.9 1092.3,870.5 1132.1,869.6M1092.3,870.5 1092.3,823.7 1132.1,822.9M1092.3,823.7 1077,812.2"/>
<polygon fill="url(#g6)" points="1115.9,870 1132.1,869.6 1132.1,822.9 1115.9,823.2"/><polygon fill="url(#g7)" points="1115.9,823.2 1132.1,822.9 1116.9,811.3 1100.6,811.6"/>
<path class="b" fill="#ea0000" d="M1010.7,872.3 1088,870.6 1088,823.8 1072.8,812.2 995.4,813.9 995.4,860.7Z"/><path class="e" d="M1010.7,872.3 1010.7,825.5 1088,823.8M1010.7,825.5 995.4,813.9"/>
<path class="b" fill="#030000" d="M364.3,886.5 441.7,884.8 441.7,838 426.4,826.4 349,828.1 349,874.9Z"/><path class="e" d="M364.3,886.5 364.3,839.7 441.7,838M364.3,839.7 349,828.1"/>
<path class="b" fill="#fc0000" d="M1020.2,864.9 1097.6,863.2 1097.6,816.4 1082.3,804.8 1005,806.5 1005,853.3Z"/><path class="e" d="M1020.2,864.9 1020.2,818.1 1097.6,816.4M1020.2,818.1 1005,806.5"/>
<path class="b" fill="#030000" d="M387.7,878 465.1,876.3 465.1,829.6 449.8,818 372.4,819.7 372.4,866.5Z"/><path class="e" d="M387.7,878 387.7,831.3 465.1,829.6M387.7,831.3 372.4,819.7"/>
<path class="f" fill="#e90000" d="M1112.9,812.9 1132.1,812.5 1132.1,765.7 1116.9,754.1 1097.6,754.6 1097.6,801.3Z"/><path class="e" d="M1116.9,754.1 1097.6,754.6 1097.6,801.3 1112.9,812.9 1132.1,812.5M1112.9,812.9 1112.9,766.1 1132.1,765.7M1112.9,766.1 1097.6,754.6"/>
<polygon fill="url(#g8)" points="1115.9,812.8 1132.1,812.5 1132.1,765.7 1115.9,766.1"/><polygon fill="url(#g9)" points="1115.9,766.1 1132.1,765.7 1116.9,754.1 1100.6,754.5"/>
<path class="b" fill="#030000" d="M345.6,780.3 400.2,779.1 400.2,732.3 385,720.7 330.3,721.9 330.3,768.7Z"/><path class="e" d="M345.6,780.3 345.6,733.5 400.2,732.3M345.6,733.5 330.3,721.9"/>
<path class="b" fill="#030000" d="M345.6,738.2 405.3,736.9 405.3,690.1 390.1,678.6 330.3,679.9 330.3,726.6Z"/><path class="e" d="M345.6,738.2 345.6,691.5 405.3,690.1M345.6,691.5 330.3,679.9"/>
<path class="f" fill="#fa0000" d="M1097.6,718.8 1132.1,718.1 1132.1,671.3 1116.9,659.7 1082.3,660.5 1082.3,707.3Z"/><path class="e" d="M1116.9,659.7 1082.3,660.5 1082.3,707.3 1097.6,718.8 1132.1,718.1M1097.6,718.8 1097.6,672.1 1132.1,671.3M1097.6,672.1 1082.3,660.5"/>
<polygon fill="url(#g10)" points="1115.9,718.4 1132.1,718.1 1132.1,671.3 1115.9,671.7"/><polygon fill="url(#g11)" points="1115.9,671.7 1132.1,671.3 1116.9,659.7 1100.6,660.1"/>
<path class="b" fill="#030000" d="M345.6,688.4 422.8,686.7 422.8,639.9 407.5,628.3 330.3,630 330.3,676.8Z"/><path class="e" d="M345.6,688.4 345.6,641.6 422.8,639.9M345.6,641.6 330.3,630"/>
<path class="b" fill="#030000" d="M345.6,644.5 418,642.9 418,596.1 402.7,584.5 330.3,586.1 330.3,632.9Z"/><path class="e" d="M345.6,644.5 345.6,597.7 418,596.1M345.6,597.7 330.3,586.1"/>
<path class="b" fill="#030000" d="M345.6,590.8 400.6,589.6 400.6,542.8 385.4,531.2 330.3,532.4 330.3,579.2Z"/><path class="e" d="M345.6,590.8 345.6,544 400.6,542.8M345.6,544 330.3,532.4"/>
<path class="b" fill="#030000" d="M358.2,547.3 435.6,545.6 435.6,498.8 420.3,487.2 343,488.9 343,535.7Z"/><path class="e" d="M358.2,547.3 358.2,500.5 435.6,498.8M358.2,500.5 343,488.9"/>
<path class="b" fill="#a10000" d="M843.1,486 920.5,484.3 920.5,437.5 905.2,425.9 827.8,427.6 827.8,474.4Z"/><path class="e" d="M843.1,486 843.1,439.2 920.5,437.5M843.1,439.2 827.8,427.6"/>
<path class="b" fill="#030000" d="M354.7,493.6 432.1,491.9 432.1,445.2 416.8,433.6 339.4,435.3 339.4,482.1Z"/><path class="e" d="M354.7,493.6 354.7,446.9 432.1,445.2M354.7,446.9 339.4,435.3"/>
<path class="b" fill="#1e0000" d="M516.8,489.1 594.2,487.4 594.2,440.6 578.9,429 501.6,430.7 501.6,477.5Z"/><path class="e" d="M516.8,489.1 516.8,442.3 594.2,440.6M516.8,442.3 501.6,430.7"/>
<path class="b" fill="#030000" d="M345.6,450.4 392.4,449.4 392.4,402.6 377.1,391.1 330.3,392.1 330.3,438.8Z"/><path class="e" d="M345.6,450.4 345.6,403.7 392.4,402.6M345.6,403.7 330.3,392.1"/>
<path class="b" fill="#f60000" d="M960.7,431.5 1038.1,429.8 1038.1,383 1022.8,371.4 945.5,373.1 945.5,419.9Z"/><path class="e" d="M960.7,431.5 960.7,384.7 1038.1,383M960.7,384.7 945.5,373.1"/>
<path class="b" fill="#030000" d="M345.6,398.7 422.5,397 422.5,350.3 407.3,338.7 330.3,340.4 330.3,387.2Z"/><path class="e" d="M345.6,398.7 345.6,352 422.5,350.3M345.6,352 330.3,340.4"/>
<path class="b" fill="#030000" d="M345.6,360.5 416.9,359 416.9,312.2 401.6,300.6 330.3,302.2 330.3,348.9Z"/><path class="e" d="M345.6,360.5 345.6,313.8 416.9,312.2M345.6,313.8 330.3,302.2"/>
<path class="b" fill="#bb0000" d="M886.5,343.9 963.9,342.2 963.9,295.4 948.6,283.9 871.2,285.6 871.2,332.3Z"/><path class="e" d="M886.5,343.9 886.5,297.1 963.9,295.4M886.5,297.1 871.2,285.6"/>
<path class="b" fill="#700000" d="M741,301.5 818.4,299.8 818.4,253 803.1,241.5 725.8,243.2 725.8,289.9Z"/><path class="e" d="M741,301.5 741,254.7 818.4,253M741,254.7 725.8,243.2"/>
<path class="b" fill="#400000" d="M850,253.7 927.4,252 927.4,203.3 912.1,191.7 834.7,193.4 834.7,242.1Z"/><path class="e" d="M850,253.7 850,205 927.4,203.3M850,205 834.7,193.4"/><path class="h" d="M834.7,242.1 912.1,240.4 927.4,252M912.1,240.4 912.1,191.7"/>
<path class="b" fill="#f50000" d="M1007.5,249.3 1084.9,247.6 1084.9,200.8 1069.6,189.2 992.2,190.9 992.2,237.7Z"/><path class="e" d="M1007.5,249.3 1007.5,202.5 1084.9,200.8M1007.5,202.5 992.2,190.9"/><path class="h" d="M992.2,237.7 1069.6,236 1084.9,247.6M1069.6,236 1069.6,189.2"/>
<path class="b" fill="#370000" d="M772,253.7 849.4,252 849.4,203.3 834.1,191.7 756.7,193.4 756.7,242.1Z"/><path class="e" d="M772,253.7 772,205 849.4,203.3M772,205 756.7,193.4"/><path class="h" d="M756.7,242.1 834.1,240.4 849.4,252M834.1,240.4 834.1,191.7"/>
<path class="b" fill="#370000" d="M677.5,253.7 754.9,252 754.9,203.3 739.6,191.7 662.2,193.4 662.2,242.1Z"/><path class="e" d="M677.5,253.7 677.5,205 754.9,203.3M677.5,205 662.2,193.4"/><path class="h" d="M662.2,242.1 739.6,240.4 754.9,252M739.6,240.4 739.6,191.7"/>
<path class="b" fill="#950000" d="M725.7,890.5 803,888.8 803,842 787.8,830.4 710.4,832.1 710.4,878.9Z"/><path class="e" d="M725.7,890.5 725.7,843.7 803,842M725.7,843.7 710.4,832.1"/>
<path class="b" fill="#f90000" d="M897.3,876.2 974.6,874.5 974.6,827.7 959.4,816.1 882,817.8 882,864.6Z"/><path class="e" d="M897.3,876.2 897.3,829.4 974.6,827.7M897.3,829.4 882,817.8"/>
<path class="b" fill="#ef0000" d="M819.1,876.9 896.5,875.2 896.5,828.4 881.2,816.8 803.8,818.5 803.8,865.3Z"/><path class="e" d="M819.1,876.9 819.1,830.1 896.5,828.4M819.1,830.1 803.8,818.5"/>
<path class="b" fill="#fa0000" d="M975.4,872.8 1052.8,871.1 1052.8,824.3 1037.5,812.7 960.1,814.4 960.1,861.2Z"/><path class="e" d="M975.4,872.8 975.4,826 1052.8,824.3M975.4,826 960.1,814.4"/>
<path class="b" fill="#760000" d="M735.2,877.2 812.6,875.5 812.6,828.8 797.3,817.2 719.9,818.9 719.9,865.6Z"/><path class="e" d="M735.2,877.2 735.2,830.5 812.6,828.8M735.2,830.5 719.9,818.9"/>
<path class="b" fill="#f20000" d="M1064.4,869.1 1141.7,867.4 1141.7,820.7 1126.5,809.1 1049.1,810.8 1049.1,857.5Z"/><path class="e" d="M1064.4,869.1 1064.4,822.4 1141.7,820.7M1064.4,822.4 1049.1,810.8"/>
<path class="b" fill="#8b0000" d="M744.7,832.2 822.1,830.5 822.1,783.8 806.8,772.2 729.4,773.9 729.4,820.7Z"/><path class="e" d="M744.7,832.2 744.7,785.5 822.1,783.8M744.7,785.5 729.4,773.9"/>
<path class="b" fill="#030000" d="M360.8,838.7 423,837.3 423,790.6 407.7,779 345.6,780.4 345.6,827.1Z"/><path class="e" d="M360.8,838.7 360.8,791.9 423,790.6M360.8,791.9 345.6,780.4"/>
<path class="b" fill="#030000" d="M360.8,800.5 423.2,799.2 423.2,752.4 408,740.8 345.6,742.2 345.6,789Z"/><path class="e" d="M360.8,800.5 360.8,753.8 423.2,752.4M360.8,753.8 345.6,742.2"/>
<path class="b" fill="#030000" d="M360.8,748.3 423,746.9 423,700.1 407.8,688.6 345.6,689.9 345.6,736.7Z"/><path class="e" d="M360.8,748.3 360.8,701.5 423,700.1M360.8,701.5 345.6,689.9"/>
<path class="b" fill="#ff0000" d="M1021,731.6 1098.4,729.9 1098.4,683.1 1083.1,671.6 1005.8,673.3 1005.8,720Z"/><path class="e" d="M1021,731.6 1021,684.8 1098.4,683.1M1021,684.8 1005.8,673.3"/>
<path class="b" fill="#030000" d="M360.8,704 430.4,702.5 430.4,655.7 415.1,644.1 345.6,645.7 345.6,692.4Z"/><path class="e" d="M360.8,704 360.8,657.2 430.4,655.7M360.8,657.2 345.6,645.7"/>
<path class="b" fill="#030000" d="M360.8,609.3 407.4,608.3 407.4,561.5 392.1,549.9 345.6,551 345.6,597.7Z"/><path class="e" d="M360.8,609.3 360.8,562.5 407.4,561.5M360.8,562.5 345.6,551"/>
<path class="b" fill="#a40000" d="M872.6,503.9 949.9,502.2 949.9,455.4 934.7,443.9 857.3,445.6 857.3,492.3Z"/><path class="e" d="M872.6,503.9 872.6,457.1 949.9,455.4M872.6,457.1 857.3,445.6"/>
<path class="b" fill="#f90000" d="M1028.9,499.2 1106.2,497.5 1106.2,450.7 1091,439.1 1013.6,440.8 1013.6,487.6Z"/><path class="e" d="M1028.9,499.2 1028.9,452.4 1106.2,450.7M1028.9,452.4 1013.6,440.8"/>
<path class="b" fill="#cc0000" d="M950.7,500.1 1028.1,498.4 1028.1,451.6 1012.8,440.1 935.4,441.8 935.4,488.5Z"/><path class="e" d="M950.7,500.1 950.7,453.3 1028.1,451.6M950.7,453.3 935.4,441.8"/>
<path class="b" fill="#030000" d="M384.4,511.9 461.8,510.2 461.8,463.5 446.5,451.9 369.1,453.6 369.1,500.4Z"/><path class="e" d="M384.4,511.9 384.4,465.2 461.8,463.5M384.4,465.2 369.1,453.6"/>
<path class="b" fill="#2d0000" d="M540.7,506.5 618.1,504.8 618.1,458 602.8,446.5 525.4,448.2 525.4,494.9Z"/><path class="e" d="M540.7,506.5 540.7,459.7 618.1,458M540.7,459.7 525.4,448.2"/>
<path class="b" fill="#a90000" d="M812.3,455.8 889.6,454.1 889.6,407.3 874.4,395.8 797,397.5 797,444.2Z"/><path class="e" d="M812.3,455.8 812.3,409 889.6,407.3M812.3,409 797,397.5"/>
<path class="b" fill="#030000" d="M360.8,463.5 394.5,462.7 394.5,416 379.2,404.4 345.6,405.1 345.6,451.9Z"/><path class="e" d="M360.8,463.5 360.8,416.7 394.5,416M360.8,416.7 345.6,405.1"/>
<path class="b" fill="#ee0000" d="M980.6,449 1058,447.3 1058,400.5 1042.7,389 965.3,390.7 965.3,437.4Z"/><path class="e" d="M980.6,449 980.6,402.2 1058,400.5M980.6,402.2 965.3,390.7"/>
<path class="b" fill="#380000" d="M563.4,457.1 640.8,455.4 640.8,408.6 625.5,397 548.1,398.7 548.1,445.5Z"/><path class="e" d="M563.4,457.1 563.4,410.3 640.8,408.6M563.4,410.3 548.1,398.7"/>
<path class="b" fill="#ff0000" d="M1058.8,445.6 1136.1,443.9 1136.1,397.1 1120.9,385.6 1043.5,387.3 1043.5,434Z"/><path class="e" d="M1058.8,445.6 1058.8,398.8 1136.1,397.1M1058.8,398.8 1043.5,387.3"/>
<path class="f" fill="#fe0000" d="M1073.6,401.2 1147.4,399.6 1147.4,352.8 1132.1,341.3 1058.3,342.9 1058.3,389.6Z"/><path class="e" d="M1132.1,341.3 1058.3,342.9 1058.3,389.6 1073.6,401.2 1147.4,399.6M1073.6,401.2 1073.6,354.5 1147.4,352.8M1073.6,354.5 1058.3,342.9"/>
<polygon fill="url(#g12)" points="1131.2,400 1147.4,399.6 1147.4,352.8 1131.2,353.2"/><polygon fill="url(#g13)" points="1131.2,353.2 1147.4,352.8 1132.1,341.3 1115.9,341.6"/>
<path class="b" fill="#030000" d="M370.2,413.2 447.6,411.5 447.6,364.8 432.3,353.2 354.9,354.9 354.9,401.6Z"/><path class="e" d="M370.2,413.2 370.2,366.5 447.6,364.8M370.2,366.5 354.9,354.9"/>
<path class="b" fill="#bc0000" d="M896.8,357.8 974.1,356.1 974.1,309.4 958.9,297.8 881.5,299.5 881.5,346.3Z"/><path class="e" d="M896.8,357.8 896.8,311.1 974.1,309.4M896.8,311.1 881.5,299.5"/>
<path class="b" fill="#030000" d="M360.8,365.2 431.6,363.7 431.6,316.9 416.3,305.3 345.6,306.9 345.6,353.6Z"/><path class="e" d="M360.8,365.2 360.8,318.5 431.6,316.9M360.8,318.5 345.6,306.9"/>
<path class="b" fill="#eb0000" d="M925,291.8 1002.4,290.1 1002.4,243.3 987.1,231.7 909.7,233.4 909.7,280.2Z"/><path class="e" d="M925,291.8 925,245 1002.4,243.3M925,245 909.7,233.4"/><path class="h" d="M909.7,280.2 987.1,278.5 1002.4,290.1M987.1,278.5 987.1,231.7"/>
<path class="b" fill="#8c0000" d="M710,273 787.4,271.3 787.4,224.6 772.1,213 694.7,214.7 694.7,261.4Z"/><path class="e" d="M710,273 710,226.2 787.4,224.6M710,226.2 694.7,214.7"/><path class="h" d="M694.7,261.4 772.1,259.7 787.4,271.3M772.1,259.7 772.1,213"/>
<path class="b" fill="#2d0000" d="M551,272.8 628.4,271.1 628.4,224.3 613.1,212.7 535.7,214.4 535.7,261.2Z"/><path class="e" d="M551,272.8 551,226 628.4,224.3M551,226 535.7,214.4"/><path class="h" d="M535.7,261.2 613.1,259.5 628.4,271.1M613.1,259.5 613.1,212.7"/>
<path class="b" fill="#030000" d="M403.9,909.4 481.3,907.7 481.3,861 466,849.4 388.7,851.1 388.7,897.9Z"/><path class="e" d="M403.9,909.4 403.9,862.7 481.3,861M403.9,862.7 388.7,851.1"/>
<path class="b" fill="#f50000" d="M806.2,898 883.6,896.3 883.6,849.5 868.4,838 791,839.7 791,886.4Z"/><path class="e" d="M806.2,898 806.2,851.2 883.6,849.5M806.2,851.2 791,839.7"/><path class="h" d="M791,886.4 868.4,884.7 883.6,896.3M868.4,884.7 868.4,838"/>
<path class="b" fill="#f30000" d="M942.2,894 1019.6,892.3 1019.6,845.5 1004.3,833.9 927,835.6 927,882.4Z"/><path class="e" d="M942.2,894 942.2,847.2 1019.6,845.5M942.2,847.2 927,835.6"/>
<path class="b" fill="#030000" d="M395.2,901.7 472.6,900 472.6,853.3 457.3,841.7 379.9,843.4 379.9,890.1Z"/><path class="e" d="M395.2,901.7 395.2,855 472.6,853.3M395.2,855 379.9,843.4"/>
<path class="b" fill="#e90000" d="M974.7,848 1052,846.3 1052,799.6 1036.8,788 959.4,789.7 959.4,836.5Z"/><path class="e" d="M974.7,848 974.7,801.3 1052,799.6M974.7,801.3 959.4,789.7"/>
<path class="b" fill="#ed0000" d="M1056.9,846.2 1134.3,844.5 1134.3,797.7 1119,786.2 1041.6,787.9 1041.6,834.6Z"/><path class="e" d="M1056.9,846.2 1056.9,799.4 1134.3,797.7M1056.9,799.4 1041.6,787.9"/>
<path class="b" fill="#760000" d="M719.3,850.7 796.7,849 796.7,802.2 781.4,790.6 704,792.3 704,839.1Z"/><path class="e" d="M719.3,850.7 719.3,803.9 796.7,802.2M719.3,803.9 704,792.3"/>
<path class="b" fill="#e60000" d="M896.5,845.7 973.9,844 973.9,797.2 958.6,785.7 881.2,787.4 881.2,834.1Z"/><path class="e" d="M896.5,845.7 896.5,798.9 973.9,797.2M896.5,798.9 881.2,787.4"/>
<path class="b" fill="#030000" d="M389.5,805.9 466.8,804.2 466.8,757.4 451.6,745.9 374.2,747.6 374.2,794.3Z"/><path class="e" d="M389.5,805.9 389.5,759.1 466.8,757.4M389.5,759.1 374.2,747.6"/>
<path class="b" fill="#030000" d="M376.1,758.7 452.2,757 452.2,710.3 436.9,698.7 360.8,700.4 360.8,747.1Z"/><path class="e" d="M376.1,758.7 376.1,711.9 452.2,710.3M376.1,711.9 360.8,700.4"/>
<path class="b" fill="#f00000" d="M1017,743.9 1094.4,742.2 1094.4,695.5 1079.1,683.9 1001.7,685.6 1001.7,732.4Z"/><path class="e" d="M1017,743.9 1017,697.2 1094.4,695.5M1017,697.2 1001.7,685.6"/>
<path class="b" fill="#030000" d="M376.1,715.4 412.7,714.6 412.7,667.8 397.4,656.2 360.8,657 360.8,703.8Z"/><path class="e" d="M376.1,715.4 376.1,668.6 412.7,667.8M376.1,668.6 360.8,657"/>
<path class="b" fill="#030000" d="M413.9,714.5 491.3,712.8 491.3,666 476,654.5 398.7,656.2 398.7,702.9Z"/><path class="e" d="M413.9,714.5 413.9,667.7 491.3,666M413.9,667.7 398.7,656.2"/>
<path class="b" fill="#f40000" d="M1043.4,652.4 1120.7,650.7 1120.7,603.9 1105.5,592.3 1028.1,594 1028.1,640.8Z"/><path class="e" d="M1043.4,652.4 1043.4,605.6 1120.7,603.9M1043.4,605.6 1028.1,594"/>
<path class="b" fill="#030000" d="M398.7,664.7 476.1,663 476.1,616.2 460.8,604.7 383.4,606.4 383.4,653.1Z"/><path class="e" d="M398.7,664.7 398.7,617.9 476.1,616.2M398.7,617.9 383.4,606.4"/>
<path class="b" fill="#030000" d="M379.5,622.5 456.9,620.8 456.9,574 441.6,562.5 364.2,564.2 364.2,610.9Z"/><path class="e" d="M379.5,622.5 379.5,575.7 456.9,574M379.5,575.7 364.2,564.2"/>
<path class="b" fill="#030000" d="M376.1,571.2 435.3,569.9 435.3,523.1 420.1,511.6 360.8,512.9 360.8,559.6Z"/><path class="e" d="M376.1,571.2 376.1,524.4 435.3,523.1M376.1,524.4 360.8,512.9"/>
<path class="b" fill="#030000" d="M376.1,529.4 423.2,528.3 423.2,481.6 407.9,470 360.8,471 360.8,517.8Z"/><path class="e" d="M376.1,529.4 376.1,482.6 423.2,481.6M376.1,482.6 360.8,471"/>
<path class="b" fill="#030000" d="M424,525.5 501.3,523.8 501.3,477.1 486.1,465.5 408.7,467.2 408.7,513.9Z"/><path class="e" d="M424,525.5 424,478.8 501.3,477.1M424,478.8 408.7,467.2"/>
<path class="b" fill="#440000" d="M592.6,472.1 670,470.4 670,423.6 654.7,412.1 577.4,413.8 577.4,460.5Z"/><path class="e" d="M592.6,472.1 592.6,425.3 670,423.6M592.6,425.3 577.4,413.8"/>
<path class="b" fill="#fb0000" d="M983.4,463.4 1060.8,461.7 1060.8,415 1045.5,403.4 968.1,405.1 968.1,451.9Z"/><path class="e" d="M983.4,463.4 983.4,416.7 1060.8,415M983.4,416.7 968.1,405.1"/>
<path class="b" fill="#800000" d="M670.8,467.5 748.2,465.8 748.2,419 732.9,407.4 655.5,409.1 655.5,455.9Z"/><path class="e" d="M670.8,467.5 670.8,420.7 748.2,419M670.8,420.7 655.5,409.1"/>
<path class="b" fill="#030000" d="M378,444.8 455.4,443.1 455.4,396.3 440.1,384.7 362.7,386.4 362.7,433.2Z"/><path class="e" d="M378,444.8 378,398 455.4,396.3M378,398 362.7,386.4"/><path class="h" d="M362.7,433.2 440.1,431.5 455.4,443.1M440.1,431.5 440.1,384.7"/>
<path class="b" fill="#e10000" d="M880,430.8 957.4,429.1 957.4,382.3 942.1,370.7 864.7,372.4 864.7,419.2Z"/><path class="e" d="M880,430.8 880,384 957.4,382.3M880,384 864.7,372.4"/><path class="h" d="M864.7,419.2 942.1,417.5 957.4,429.1M942.1,417.5 942.1,370.7"/>
<path class="b" fill="#fd0000" d="M1025.5,412.4 1102.8,410.7 1102.8,364 1087.6,352.4 1010.2,354.1 1010.2,400.8Z"/><path class="e" d="M1025.5,412.4 1025.5,365.7 1102.8,364M1025.5,365.7 1010.2,354.1"/>
<path class="b" fill="#030000" d="M379.1,378.3 456.4,376.6 456.4,329.8 441.2,318.2 363.8,319.9 363.8,366.7Z"/><path class="e" d="M379.1,378.3 379.1,331.5 456.4,329.8M379.1,331.5 363.8,319.9"/>
<path class="b" fill="#bc0000" d="M863.6,365.9 940.9,364.2 940.9,317.4 925.7,305.8 848.3,307.5 848.3,354.3Z"/><path class="e" d="M863.6,365.9 863.6,319.1 940.9,317.4M863.6,319.1 848.3,307.5"/>
<path class="b" fill="#980000" d="M785.4,366 862.8,364.3 862.8,317.5 847.5,305.9 770.1,307.6 770.1,354.4Z"/><path class="e" d="M785.4,366 785.4,319.2 862.8,317.5M785.4,319.2 770.1,307.6"/>
<path class="b" fill="#030000" d="M401.6,328.7 479,327 479,280.3 463.7,268.7 386.3,270.4 386.3,317.1Z"/><path class="e" d="M401.6,328.7 401.6,282 479,280.3M401.6,282 386.3,270.4"/>
<path class="b" fill="#140000" d="M479.7,326.3 557.1,324.6 557.1,277.8 541.8,266.3 464.5,268 464.5,314.7Z"/><path class="e" d="M479.7,326.3 479.7,279.5 557.1,277.8M479.7,279.5 464.5,268"/>
<path class="b" fill="#e10000" d="M812,318.4 889.4,316.7 889.4,269.9 874.1,258.3 796.7,260 796.7,306.8Z"/><path class="e" d="M812,318.4 812,271.6 889.4,269.9M812,271.6 796.7,260"/><path class="h" d="M796.7,306.8 874.1,305.1 889.4,316.7M874.1,305.1 874.1,258.3"/>
<path class="b" fill="#fa0000" d="M1022.5,276.8 1099.9,275.1 1099.9,228.3 1084.6,216.7 1007.2,218.4 1007.2,265.2Z"/><path class="e" d="M1022.5,276.8 1022.5,230 1099.9,228.3M1022.5,230 1007.2,218.4"/><path class="h" d="M1007.2,265.2 1084.6,263.5 1099.9,275.1M1084.6,263.5 1084.6,216.7"/>
<path class="b" fill="#250000" d="M584.2,915.3 661.5,913.6 661.5,866.8 646.3,855.3 568.9,857 568.9,903.7Z"/><path class="e" d="M584.2,915.3 584.2,868.5 661.5,866.8M584.2,868.5 568.9,857"/>
<path class="b" fill="#fa0000" d="M975,904.8 1052.4,903.1 1052.4,856.3 1037.1,844.7 959.7,846.4 959.7,893.2Z"/><path class="e" d="M975,904.8 975,858 1052.4,856.3M975,858 959.7,846.4"/><path class="h" d="M959.7,893.2 1037.1,891.5 1052.4,903.1M1037.1,891.5 1037.1,844.7"/>
<path class="b" fill="#030000" d="M417.7,916.4 495.1,914.7 495.1,867.9 479.8,856.4 402.5,858.1 402.5,904.8Z"/><path class="e" d="M417.7,916.4 417.7,869.6 495.1,867.9M417.7,869.6 402.5,858.1"/>
<path class="b" fill="#f50000" d="M822.5,906.8 899.9,905.1 899.9,858.3 884.6,846.7 807.2,848.4 807.2,895.2Z"/><path class="e" d="M822.5,906.8 822.5,860 899.9,858.3M822.5,860 807.2,848.4"/><path class="h" d="M807.2,895.2 884.6,893.5 899.9,905.1M884.6,893.5 884.6,846.7"/>
<path class="f" fill="#fa0000" d="M1120,892.8 1178,891.5 1178,844.7 1162.7,833.2 1104.7,834.4 1104.7,881.2Z"/><path class="e" d="M1162.7,833.2 1104.7,834.4 1104.7,881.2 1120,892.8 1178,891.5M1120,892.8 1120,846 1178,844.7M1120,846 1104.7,834.4"/><path class="h" d="M1104.7,881.2 1162.7,879.9 1178,891.5M1162.7,879.9 1162.7,833.2"/>
<polygon fill="url(#g14)" points="1161.7,891.8 1178,891.5 1178,844.7 1161.7,845.1"/><polygon fill="url(#g15)" points="1161.7,845.1 1178,844.7 1162.7,833.2 1146.4,833.5"/>
<path class="b" fill="#eb0000" d="M805,896.8 882.4,895.1 882.4,848.3 867.1,836.7 789.7,838.4 789.7,885.2Z"/><path class="e" d="M805,896.8 805,850 882.4,848.3M805,850 789.7,838.4"/><path class="h" d="M789.7,885.2 867.1,883.5 882.4,895.1M867.1,883.5 867.1,836.7"/>
<path class="b" fill="#390000" d="M669.3,863.6 746.7,861.9 746.7,815.1 731.4,803.5 654,805.2 654,852Z"/><path class="e" d="M669.3,863.6 669.3,816.8 746.7,815.1M669.3,816.8 654,805.2"/>
<path class="b" fill="#4e0000" d="M658.4,816.9 735.7,815.2 735.7,768.5 720.5,756.9 643.1,758.6 643.1,805.4Z"/><path class="e" d="M658.4,816.9 658.4,770.2 735.7,768.5M658.4,770.2 643.1,758.6"/>
<path class="b" fill="#030000" d="M391.4,821.5 459.1,820 459.1,773.3 443.8,761.7 376.1,763.2 376.1,809.9Z"/><path class="e" d="M391.4,821.5 391.4,774.7 459.1,773.3M391.4,774.7 376.1,763.2"/>
<path class="b" fill="#ff0000" d="M1017.6,765 1095,763.3 1095,716.5 1079.7,705 1002.4,706.7 1002.4,753.4Z"/><path class="e" d="M1017.6,765 1017.6,718.2 1095,716.5M1017.6,718.2 1002.4,706.7"/>
<path class="b" fill="#4b0000" d="M675.5,772.5 752.9,770.8 752.9,724 737.6,712.4 660.2,714.1 660.2,760.9Z"/><path class="e" d="M675.5,772.5 675.5,725.7 752.9,724M675.5,725.7 660.2,714.1"/>
<path class="b" fill="#030000" d="M391.4,776 435.7,775 435.7,728.2 420.5,716.7 376.1,717.6 376.1,764.4Z"/><path class="e" d="M391.4,776 391.4,729.2 435.7,728.2M391.4,729.2 376.1,717.6"/>
<path class="b" fill="#2e0000" d="M597.3,769.7 674.7,768 674.7,721.3 659.4,709.7 582.1,711.4 582.1,758.2Z"/><path class="e" d="M597.3,769.7 597.3,723 674.7,721.3M597.3,723 582.1,711.4"/>
<path class="b" fill="#670000" d="M645.9,722.8 723.2,721.1 723.2,674.4 708,662.8 630.6,664.5 630.6,711.3Z"/><path class="e" d="M645.9,722.8 645.9,676.1 723.2,674.4M645.9,676.1 630.6,664.5"/>
<path class="b" fill="#e70000" d="M978.1,714.7 1055.5,713 1055.5,666.2 1040.2,654.6 962.8,656.3 962.8,703.1Z"/><path class="e" d="M978.1,714.7 978.1,667.9 1055.5,666.2M978.1,667.9 962.8,656.3"/>
<path class="b" fill="#390000" d="M567.7,719.7 645.1,718 645.1,671.2 629.8,659.7 552.4,661.4 552.4,708.1Z"/><path class="e" d="M567.7,719.7 567.7,672.9 645.1,671.2M567.7,672.9 552.4,661.4"/>
<path class="b" fill="#fa0000" d="M1098,693.8 1175.4,692.1 1175.4,645.3 1160.1,633.7 1082.7,635.4 1082.7,682.2Z"/><path class="e" d="M1098,693.8 1098,647 1175.4,645.3M1098,647 1082.7,635.4"/><path class="h" d="M1082.7,682.2 1160.1,680.5 1175.4,692.1M1160.1,680.5 1160.1,633.7"/>
<path class="b" fill="#920000" d="M757.7,675.6 835.1,673.9 835.1,627.1 819.8,615.5 742.4,617.2 742.4,664Z"/><path class="e" d="M757.7,675.6 757.7,628.8 835.1,627.1M757.7,628.8 742.4,617.2"/>
<path class="b" fill="#270000" d="M523.3,679.9 600.7,678.2 600.7,631.4 585.4,619.9 508,621.6 508,668.3Z"/><path class="e" d="M523.3,679.9 523.3,633.1 600.7,631.4M523.3,633.1 508,621.6"/>
<path class="b" fill="#5e0000" d="M679.6,676.4 756.9,674.7 756.9,627.9 741.7,616.3 664.3,618 664.3,664.8Z"/><path class="e" d="M679.6,676.4 679.6,629.6 756.9,627.9M679.6,629.6 664.3,618"/>
<path class="b" fill="#030000" d="M406.5,673 483.9,671.3 483.9,624.5 468.6,612.9 391.3,614.6 391.3,661.4Z"/><path class="e" d="M406.5,673 406.5,626.2 483.9,624.5M406.5,626.2 391.3,614.6"/>
<path class="b" fill="#470000" d="M603.5,624.6 680.9,622.9 680.9,576.2 665.6,564.6 588.2,566.3 588.2,613.1Z"/><path class="e" d="M603.5,624.6 603.5,577.9 680.9,576.2M603.5,577.9 588.2,566.3"/>
<path class="b" fill="#f00000" d="M1072.4,614.3 1149.8,612.6 1149.8,565.9 1134.5,554.3 1057.1,556 1057.1,602.7Z"/><path class="e" d="M1072.4,614.3 1072.4,567.6 1149.8,565.9M1072.4,567.6 1057.1,556"/>
<path class="b" fill="#030000" d="M391.4,627.8 433,626.8 433,580.1 417.7,568.5 376.1,569.4 376.1,616.2Z"/><path class="e" d="M391.4,627.8 391.4,581 433,580.1M391.4,581 376.1,569.4"/>
<path class="b" fill="#220000" d="M511.9,624.5 589.3,622.8 589.3,576 574,564.4 496.6,566.1 496.6,612.9Z"/><path class="e" d="M511.9,624.5 511.9,577.7 589.3,576M511.9,577.7 496.6,566.1"/>
<path class="b" fill="#030000" d="M391.4,535.5 455.5,534.1 455.5,487.4 440.3,475.8 376.1,477.2 376.1,524Z"/><path class="e" d="M391.4,535.5 391.4,488.8 455.5,487.4M391.4,488.8 376.1,477.2"/>
<path class="b" fill="#f00000" d="M985.2,480.1 1062.5,478.4 1062.5,431.6 1047.3,420 969.9,421.7 969.9,468.5Z"/><path class="e" d="M985.2,480.1 985.2,433.3 1062.5,431.6M985.2,433.3 969.9,421.7"/>
<path class="b" fill="#470000" d="M599.3,486.2 676.6,484.5 676.6,437.8 661.4,426.2 584,427.9 584,474.7Z"/><path class="e" d="M599.3,486.2 599.3,439.5 676.6,437.8M599.3,439.5 584,427.9"/>
<path class="b" fill="#8b0000" d="M770.4,435.2 847.7,433.5 847.7,386.8 832.5,375.2 755.1,376.9 755.1,423.7Z"/><path class="e" d="M770.4,435.2 770.4,388.5 847.7,386.8M770.4,388.5 755.1,376.9"/>
<path class="b" fill="#f60000" d="M1004.8,429.5 1082.2,427.8 1082.2,381 1066.9,369.4 989.5,371.1 989.5,417.9Z"/><path class="e" d="M1004.8,429.5 1004.8,382.7 1082.2,381M1004.8,382.7 989.5,371.1"/>
<path class="b" fill="#f90000" d="M1010.9,382.6 1088.3,380.9 1088.3,334.1 1073,322.5 995.6,324.2 995.6,371Z"/><path class="e" d="M1010.9,382.6 1010.9,335.8 1088.3,334.1M1010.9,335.8 995.6,324.2"/>
<path class="b" fill="#ff0000" d="M1089.1,377.9 1166.4,376.2 1166.4,329.4 1151.2,317.8 1073.8,319.5 1073.8,366.3Z"/><path class="e" d="M1089.1,377.9 1089.1,331.1 1166.4,329.4M1089.1,331.1 1073.8,319.5"/>
<path class="b" fill="#040000" d="M440.8,390.4 518.2,388.7 518.2,341.9 502.9,330.3 425.5,332 425.5,378.8Z"/><path class="e" d="M440.8,390.4 440.8,343.6 518.2,341.9M440.8,343.6 425.5,332"/>
<path class="b" fill="#030000" d="M434.2,342.9 511.5,341.2 511.5,294.5 496.3,282.9 418.9,284.6 418.9,331.4Z"/><path class="e" d="M434.2,342.9 434.2,296.2 511.5,294.5M434.2,296.2 418.9,284.6"/>
<path class="b" fill="#220000" d="M512.3,340.9 589.7,339.2 589.7,292.5 574.4,280.9 497,282.6 497,329.4Z"/><path class="e" d="M512.3,340.9 512.3,294.2 589.7,292.5M512.3,294.2 497,282.6"/>
<path class="b" fill="#fa0000" d="M1037.5,286.8 1114.9,285.1 1114.9,238.3 1099.6,226.7 1022.2,228.4 1022.2,275.2Z"/><path class="e" d="M1037.5,286.8 1037.5,240 1114.9,238.3M1037.5,240 1022.2,228.4"/><path class="h" d="M1022.2,275.2 1099.6,273.5 1114.9,285.1M1099.6,273.5 1099.6,226.7"/>
<path class="b" fill="#e60000" d="M881.2,284.3 958.6,282.6 958.6,235.8 943.3,224.2 866,225.9 866,272.7Z"/><path class="e" d="M881.2,284.3 881.2,237.5 958.6,235.8M881.2,237.5 866,225.9"/><path class="h" d="M866,272.7 943.3,271 958.6,282.6M943.3,271 943.3,224.2"/>
<path class="f" fill="#fa0000" d="M1117,276.8 1178,275.4 1178,228.7 1162.7,217.1 1101.7,218.4 1101.7,265.2Z"/><path class="e" d="M1162.7,217.1 1101.7,218.4 1101.7,265.2 1117,276.8 1178,275.4M1117,276.8 1117,230 1178,228.7M1117,230 1101.7,218.4"/><path class="h" d="M1101.7,265.2 1162.7,263.8 1178,275.4M1162.7,263.8 1162.7,217.1"/>
<polygon fill="url(#g16)" points="1161.7,275.8 1178,275.4 1178,228.7 1161.7,229"/><polygon fill="url(#g17)" points="1161.7,229 1178,228.7 1162.7,217.1 1146.4,217.4"/>
<path class="b" fill="#260000" d="M617.5,931.8 694.9,930.1 694.9,883.3 679.6,871.7 602.2,873.4 602.2,920.2Z"/><path class="e" d="M617.5,931.8 617.5,885 694.9,883.3M617.5,885 602.2,873.4"/><path class="h" d="M602.2,920.2 679.6,918.5 694.9,930.1M679.6,918.5 679.6,871.7"/>
<path class="b" fill="#090000" d="M452.1,932.2 529.5,930.5 529.5,883.7 514.2,872.2 436.8,873.9 436.8,920.6Z"/><path class="e" d="M452.1,932.2 452.1,885.4 529.5,883.7M452.1,885.4 436.8,873.9"/><path class="h" d="M436.8,920.6 514.2,918.9 529.5,930.5M514.2,918.9 514.2,872.2"/>
<path class="b" fill="#fa0000" d="M914,918.8 991.4,917.1 991.4,870.3 976.1,858.7 898.7,860.4 898.7,907.2Z"/><path class="e" d="M914,918.8 914,872 991.4,870.3M914,872 898.7,860.4"/><path class="h" d="M898.7,907.2 976.1,905.5 991.4,917.1M976.1,905.5 976.1,858.7"/>
<path class="b" fill="#0b0000" d="M458.1,927.5 535.5,925.8 535.5,879.1 520.2,867.5 442.8,869.2 442.8,915.9Z"/><path class="e" d="M458.1,927.5 458.1,880.8 535.5,879.1M458.1,880.8 442.8,869.2"/><path class="h" d="M442.8,915.9 520.2,914.2 535.5,925.8M520.2,914.2 520.2,867.5"/>
<path class="b" fill="#f50000" d="M837.5,918 914.9,916.3 914.9,869.5 899.6,858 822.2,859.7 822.2,906.4Z"/><path class="e" d="M837.5,918 837.5,871.2 914.9,869.5M837.5,871.2 822.2,859.7"/><path class="h" d="M822.2,906.4 899.6,904.7 914.9,916.3M899.6,904.7 899.6,858"/>
<path class="f" fill="#fa0000" d="M1135,904.3 1193.2,903 1193.2,856.2 1178,844.6 1119.7,845.9 1119.7,892.7Z"/><path class="e" d="M1178,844.6 1119.7,845.9 1119.7,892.7 1135,904.3 1193.2,903M1135,904.3 1135,857.5 1193.2,856.2M1135,857.5 1119.7,845.9"/><path class="h" d="M1119.7,892.7 1178,891.4 1193.2,903M1178,891.4 1178,844.6"/>
<polygon fill="url(#g18)" points="1177,903.3 1193.2,903 1193.2,856.2 1177,856.6"/><polygon fill="url(#g19)" points="1177,856.6 1193.2,856.2 1178,844.6 1161.7,845"/>
<path class="b" fill="#030000" d="M406.7,882.2 453.6,881.1 453.6,834.4 438.3,822.8 391.4,823.8 391.4,870.6Z"/><path class="e" d="M406.7,882.2 406.7,835.4 453.6,834.4M406.7,835.4 391.4,823.8"/><path class="h" d="M391.4,870.6 438.3,869.6 453.6,881.1M438.3,869.6 438.3,822.8"/>
<path class="b" fill="#030000" d="M406.7,837.9 445.8,837 445.8,790.3 430.6,778.7 391.4,779.5 391.4,826.3Z"/><path class="e" d="M406.7,837.9 406.7,791.1 445.8,790.3M406.7,791.1 391.4,779.5"/><path class="h" d="M391.4,826.3 430.6,825.4 445.8,837M430.6,825.4 430.6,778.7"/>
<path class="b" fill="#960000" d="M748.4,829.1 825.8,827.4 825.8,780.6 810.5,769 733.2,770.7 733.2,817.5Z"/><path class="e" d="M748.4,829.1 748.4,782.3 825.8,780.6M748.4,782.3 733.2,770.7"/><path class="h" d="M733.2,817.5 810.5,815.8 825.8,827.4M810.5,815.8 810.5,769"/>
<path class="b" fill="#fb0000" d="M982.9,822.4 1060.2,820.7 1060.2,774 1045,762.4 967.6,764.1 967.6,810.9Z"/><path class="e" d="M982.9,822.4 982.9,775.7 1060.2,774M982.9,775.7 967.6,764.1"/><path class="h" d="M967.6,810.9 1045,809.2 1060.2,820.7M1045,809.2 1045,762.4"/>
<path class="b" fill="#ff0000" d="M1021.3,779.7 1098.7,778 1098.7,731.2 1083.4,719.7 1006,721.4 1006,768.1Z"/><path class="e" d="M1021.3,779.7 1021.3,732.9 1098.7,731.2M1021.3,732.9 1006,721.4"/><path class="h" d="M1006,768.1 1083.4,766.4 1098.7,778M1083.4,766.4 1083.4,719.7"/>
<path class="b" fill="#460000" d="M691.6,786.7 768.9,785 768.9,738.2 753.7,726.7 676.3,728.4 676.3,775.1Z"/><path class="e" d="M691.6,786.7 691.6,739.9 768.9,738.2M691.6,739.9 676.3,728.4"/><path class="h" d="M676.3,775.1 753.7,773.4 768.9,785M753.7,773.4 753.7,726.7"/>
<path class="b" fill="#ea0000" d="M1110.8,777.3 1188.1,775.6 1188.1,728.9 1172.9,717.3 1095.5,719 1095.5,765.8Z"/><path class="e" d="M1110.8,777.3 1110.8,730.6 1188.1,728.9M1110.8,730.6 1095.5,719"/><path class="h" d="M1095.5,765.8 1172.9,764.1 1188.1,775.6M1172.9,764.1 1172.9,717.3"/>
<path class="b" fill="#030000" d="M406.7,792 440.1,791.3 440.1,744.5 424.8,732.9 391.4,733.7 391.4,780.4Z"/><path class="e" d="M406.7,792 406.7,745.3 440.1,744.5M406.7,745.3 391.4,733.7"/><path class="h" d="M391.4,780.4 424.8,779.7 440.1,791.3M424.8,779.7 424.8,732.9"/>
<path class="b" fill="#340000" d="M613.4,787.3 690.8,785.6 690.8,738.8 675.5,727.3 598.1,729 598.1,775.7Z"/><path class="e" d="M613.4,787.3 613.4,740.5 690.8,738.8M613.4,740.5 598.1,729"/><path class="h" d="M598.1,775.7 675.5,774 690.8,785.6M675.5,774 675.5,727.3"/>
<path class="b" fill="#eb0000" d="M847.9,779.9 925.2,778.2 925.2,731.4 910,719.9 832.6,721.6 832.6,768.3Z"/><path class="e" d="M847.9,779.9 847.9,733.1 925.2,731.4M847.9,733.1 832.6,721.6"/><path class="h" d="M832.6,768.3 910,766.6 925.2,778.2M910,766.6 910,719.9"/>
<path class="b" fill="#2c0000" d="M535.7,785.3 613.1,783.6 613.1,736.9 597.8,725.3 520.4,727 520.4,773.8Z"/><path class="e" d="M535.7,785.3 535.7,738.6 613.1,736.9M535.7,738.6 520.4,727"/><path class="h" d="M520.4,773.8 597.8,772.1 613.1,783.6M597.8,772.1 597.8,725.3"/>
<path class="b" fill="#ef0000" d="M926,776.4 1003.4,774.7 1003.4,727.9 988.1,716.4 910.7,718.1 910.7,764.8Z"/><path class="e" d="M926,776.4 926,729.6 1003.4,727.9M926,729.6 910.7,718.1"/><path class="h" d="M910.7,764.8 988.1,763.1 1003.4,774.7M988.1,763.1 988.1,716.4"/>
<path class="b" fill="#f90000" d="M955.2,727.8 1032.5,726.1 1032.5,679.4 1017.3,667.8 939.9,669.5 939.9,716.3Z"/><path class="e" d="M955.2,727.8 955.2,681.1 1032.5,679.4M955.2,681.1 939.9,669.5"/><path class="h" d="M939.9,716.3 1017.3,714.6 1032.5,726.1M1017.3,714.6 1017.3,667.8"/>
<path class="b" fill="#670000" d="M706.1,730.7 783.5,729 783.5,682.3 768.2,670.7 690.9,672.4 690.9,719.1Z"/><path class="e" d="M706.1,730.7 706.1,684 783.5,682.3M706.1,684 690.9,672.4"/><path class="h" d="M690.9,719.1 768.2,717.4 783.5,729M768.2,717.4 768.2,670.7"/>
<path class="b" fill="#030000" d="M406.7,736.6 456.7,735.5 456.7,688.7 441.4,677.2 391.4,678.3 391.4,725Z"/><path class="e" d="M406.7,736.6 406.7,689.8 456.7,688.7M406.7,689.8 391.4,678.3"/><path class="h" d="M391.4,725 441.4,723.9 456.7,735.5M441.4,723.9 441.4,677.2"/>
<path class="b" fill="#e00000" d="M867.3,725 944.6,723.3 944.6,676.5 929.4,665 852,666.7 852,713.4Z"/><path class="e" d="M867.3,725 867.3,678.2 944.6,676.5M867.3,678.2 852,666.7"/><path class="h" d="M852,713.4 929.4,711.7 944.6,723.3M929.4,711.7 929.4,665"/>
<path class="b" fill="#760000" d="M585,696.8 662.4,695.1 662.4,648.3 647.1,636.7 569.7,638.4 569.7,685.2Z"/><path class="e" d="M585,696.8 585,650 662.4,648.3M585,650 569.7,638.4"/><path class="h" d="M569.7,685.2 647.1,683.5 662.4,695.1M647.1,683.5 647.1,636.7"/>
<path class="b" fill="#030000" d="M435.2,689.7 512.5,688 512.5,641.2 497.3,629.7 419.9,631.4 419.9,678.1Z"/><path class="e" d="M435.2,689.7 435.2,642.9 512.5,641.2M435.2,642.9 419.9,631.4"/><path class="h" d="M419.9,678.1 497.3,676.4 512.5,688M497.3,676.4 497.3,629.7"/>
<path class="b" fill="#8f0000" d="M809.1,681.5 886.5,679.8 886.5,633 871.2,621.4 793.8,623.1 793.8,669.9Z"/><path class="e" d="M809.1,681.5 809.1,634.7 886.5,633M809.1,634.7 793.8,623.1"/><path class="h" d="M793.8,669.9 871.2,668.2 886.5,679.8M871.2,668.2 871.2,621.4"/>
<path class="b" fill="#5e0000" d="M669.6,684.2 747,682.5 747,635.7 731.7,624.2 654.3,625.9 654.3,672.6Z"/><path class="e" d="M669.6,684.2 669.6,637.4 747,635.7M669.6,637.4 654.3,625.9"/><path class="h" d="M654.3,672.6 731.7,670.9 747,682.5M731.7,670.9 731.7,624.2"/>
<path class="b" fill="#ef0000" d="M988.2,676.2 1065.5,674.5 1065.5,627.7 1050.3,616.2 972.9,617.9 972.9,664.6Z"/><path class="e" d="M988.2,676.2 988.2,629.4 1065.5,627.7M988.2,629.4 972.9,617.9"/><path class="h" d="M972.9,664.6 1050.3,662.9 1065.5,674.5M1050.3,662.9 1050.3,616.2"/>
<path class="b" fill="#ce0000" d="M897.4,676.8 974.7,675.1 974.7,628.3 959.5,616.8 882.1,618.5 882.1,665.2Z"/><path class="e" d="M897.4,676.8 897.4,630 974.7,628.3M897.4,630 882.1,618.5"/><path class="h" d="M882.1,665.2 959.5,663.5 974.7,675.1M959.5,663.5 959.5,616.8"/>
<path class="b" fill="#400000" d="M623.1,637.1 700.5,635.4 700.5,588.6 685.2,577 607.8,578.7 607.8,625.5Z"/><path class="e" d="M623.1,637.1 623.1,590.3 700.5,588.6M623.1,590.3 607.8,578.7"/><path class="h" d="M607.8,625.5 685.2,623.8 700.5,635.4M685.2,623.8 685.2,577"/>
<path class="b" fill="#900000" d="M779.4,632.9 856.7,631.2 856.7,584.4 841.5,572.9 764.1,574.6 764.1,621.3Z"/><path class="e" d="M779.4,632.9 779.4,586.1 856.7,584.4M779.4,586.1 764.1,574.6"/><path class="h" d="M764.1,621.3 841.5,619.6 856.7,631.2M841.5,619.6 841.5,572.9"/>
<path class="f" fill="#ff0000" d="M1138.3,624 1193.2,622.8 1193.2,576 1178,564.5 1123,565.7 1123,612.4Z"/><path class="e" d="M1178,564.5 1123,565.7 1123,612.4 1138.3,624 1193.2,622.8M1138.3,624 1138.3,577.3 1193.2,576M1138.3,577.3 1123,565.7"/><path class="h" d="M1123,612.4 1178,611.2 1193.2,622.8M1178,611.2 1178,564.5"/>
<polygon fill="url(#g20)" points="1177,623.2 1193.2,622.8 1193.2,576 1177,576.4"/><polygon fill="url(#g21)" points="1177,576.4 1193.2,576 1178,564.5 1161.7,564.8"/>
<path class="b" fill="#900000" d="M701.2,633.6 778.6,631.9 778.6,585.1 763.3,573.5 685.9,575.2 685.9,622Z"/><path class="e" d="M701.2,633.6 701.2,586.8 778.6,585.1M701.2,586.8 685.9,575.2"/><path class="h" d="M685.9,622 763.3,620.3 778.6,631.9M763.3,620.3 763.3,573.5"/>
<path class="b" fill="#030000" d="M406.7,639.8 449.3,638.9 449.3,592.1 434,580.5 391.4,581.5 391.4,628.2Z"/><path class="e" d="M406.7,639.8 406.7,593 449.3,592.1M406.7,593 391.4,581.5"/><path class="h" d="M391.4,628.2 434,627.3 449.3,638.9M434,627.3 434,580.5"/>
<path class="b" fill="#760000" d="M673,597.3 750.4,595.6 750.4,548.8 735.1,537.2 657.7,538.9 657.7,585.7Z"/><path class="e" d="M673,597.3 673,550.5 750.4,548.8M673,550.5 657.7,538.9"/><path class="h" d="M657.7,585.7 735.1,584 750.4,595.6M735.1,584 735.1,537.2"/>
<path class="b" fill="#810000" d="M751.1,594.2 828.5,592.5 828.5,545.7 813.2,534.1 735.9,535.8 735.9,582.6Z"/><path class="e" d="M751.1,594.2 751.1,547.4 828.5,545.7M751.1,547.4 735.9,535.8"/><path class="h" d="M735.9,582.6 813.2,580.9 828.5,592.5M813.2,580.9 813.2,534.1"/>
<path class="b" fill="#fb0000" d="M1065.6,584.8 1143,583.1 1143,536.3 1127.7,524.8 1050.3,526.5 1050.3,573.2Z"/><path class="e" d="M1065.6,584.8 1065.6,538 1143,536.3M1065.6,538 1050.3,526.5"/><path class="h" d="M1050.3,573.2 1127.7,571.5 1143,583.1M1127.7,571.5 1127.7,524.8"/>
<path class="b" fill="#450000" d="M594.8,594.2 672.2,592.5 672.2,545.7 656.9,534.2 579.6,535.9 579.6,582.6Z"/><path class="e" d="M594.8,594.2 594.8,547.4 672.2,545.7M594.8,547.4 579.6,535.9"/><path class="h" d="M579.6,582.6 656.9,580.9 672.2,592.5M656.9,580.9 656.9,534.2"/>
<path class="b" fill="#e30000" d="M909.3,586.9 986.7,585.2 986.7,538.4 971.4,526.8 894,528.5 894,575.3Z"/><path class="e" d="M909.3,586.9 909.3,540.1 986.7,538.4M909.3,540.1 894,528.5"/><path class="h" d="M894,575.3 971.4,573.6 986.7,585.2M971.4,573.6 971.4,526.8"/>
<path class="b" fill="#240000" d="M516.7,595.5 594.1,593.8 594.1,547 578.8,535.4 501.4,537.1 501.4,583.9Z"/><path class="e" d="M516.7,595.5 516.7,548.7 594.1,547M516.7,548.7 501.4,537.1"/><path class="h" d="M501.4,583.9 578.8,582.2 594.1,593.8M578.8,582.2 578.8,535.4"/>
<path class="b" fill="#030000" d="M406.7,596.2 445.3,595.3 445.3,548.6 430,537 391.4,537.8 391.4,584.6Z"/><path class="e" d="M406.7,596.2 406.7,549.4 445.3,548.6M406.7,549.4 391.4,537.8"/><path class="h" d="M391.4,584.6 430,583.7 445.3,595.3M430,583.7 430,537"/>
<path class="b" fill="#b90000" d="M874.9,541.2 952.3,539.5 952.3,492.7 937,481.1 859.6,482.8 859.6,529.6Z"/><path class="e" d="M874.9,541.2 874.9,494.4 952.3,492.7M874.9,494.4 859.6,482.8"/><path class="h" d="M859.6,529.6 937,527.9 952.3,539.5M937,527.9 937,481.1"/>
<path class="b" fill="#030000" d="M410,551.1 487.4,549.4 487.4,502.6 472.1,491.1 394.7,492.8 394.7,539.5Z"/><path class="e" d="M410,551.1 410,504.3 487.4,502.6M410,504.3 394.7,492.8"/><path class="h" d="M394.7,539.5 472.1,537.8 487.4,549.4M472.1,537.8 472.1,491.1"/>
<path class="b" fill="#a30000" d="M796.8,541.9 874.1,540.2 874.1,493.4 858.9,481.9 781.5,483.6 781.5,530.3Z"/><path class="e" d="M796.8,541.9 796.8,495.1 874.1,493.4M796.8,495.1 781.5,483.6"/><path class="h" d="M781.5,530.3 858.9,528.6 874.1,540.2M858.9,528.6 858.9,481.9"/>
<path class="b" fill="#a00000" d="M801.3,494.6 878.7,492.9 878.7,446.1 863.4,434.5 786,436.2 786,483Z"/><path class="e" d="M801.3,494.6 801.3,447.8 878.7,446.1M801.3,447.8 786,436.2"/><path class="h" d="M786,483 863.4,481.3 878.7,492.9M863.4,481.3 863.4,434.5"/>
<path class="b" fill="#680000" d="M612.3,496.1 689.7,494.4 689.7,447.6 674.4,436 597,437.7 597,484.5Z"/><path class="e" d="M612.3,496.1 612.3,449.3 689.7,447.6M612.3,449.3 597,437.7"/><path class="h" d="M597,484.5 674.4,482.8 689.7,494.4M674.4,482.8 674.4,436"/>
<path class="b" fill="#860000" d="M723.2,492.3 800.5,490.6 800.5,443.8 785.3,432.3 707.9,434 707.9,480.7Z"/><path class="e" d="M723.2,492.3 723.2,445.5 800.5,443.8M723.2,445.5 707.9,434"/><path class="h" d="M707.9,480.7 785.3,479 800.5,490.6M785.3,479 785.3,432.3"/>
<path class="b" fill="#820000" d="M719.1,446.9 796.5,445.2 796.5,398.4 781.2,386.9 703.9,388.6 703.9,435.3Z"/><path class="e" d="M719.1,446.9 719.1,400.1 796.5,398.4M719.1,400.1 703.9,388.6"/><path class="h" d="M703.9,435.3 781.2,433.6 796.5,445.2M781.2,433.6 781.2,386.9"/>
<path class="b" fill="#370000" d="M562.8,448.8 640.2,447.1 640.2,400.4 624.9,388.8 547.6,390.5 547.6,437.2Z"/><path class="e" d="M562.8,448.8 562.8,402.1 640.2,400.4M562.8,402.1 547.6,390.5"/><path class="h" d="M547.6,437.2 624.9,435.5 640.2,447.1M624.9,435.5 624.9,388.8"/>
<path class="b" fill="#790000" d="M641,446.5 718.4,444.8 718.4,398 703.1,386.5 625.7,388.2 625.7,434.9Z"/><path class="e" d="M641,446.5 641,399.7 718.4,398M641,399.7 625.7,388.2"/><path class="h" d="M625.7,434.9 703.1,433.2 718.4,444.8M703.1,433.2 703.1,386.5"/>
<path class="b" fill="#f00000" d="M971.2,430.5 1048.6,428.8 1048.6,382 1033.3,370.5 956,372.2 956,418.9Z"/><path class="e" d="M971.2,430.5 971.2,383.8 1048.6,382M971.2,383.8 956,372.2"/><path class="h" d="M956,418.9 1033.3,417.2 1048.6,428.8M1033.3,417.2 1033.3,370.5"/>
<path class="b" fill="#c80000" d="M891.8,428.8 969.1,427.1 969.1,380.3 953.8,368.7 876.5,370.4 876.5,417.2Z"/><path class="e" d="M891.8,428.8 891.8,382 969.1,380.3M891.8,382 876.5,370.4"/><path class="h" d="M876.5,417.2 953.8,415.5 969.1,427.1M953.8,415.5 953.8,368.7"/>
<path class="f" fill="#fa0000" d="M1126.5,422.3 1193.2,420.8 1193.2,374 1178,362.5 1111.2,363.9 1111.2,410.7Z"/><path class="e" d="M1178,362.5 1111.2,363.9 1111.2,410.7 1126.5,422.3 1193.2,420.8M1126.5,422.3 1126.5,375.5 1193.2,374M1126.5,375.5 1111.2,363.9"/><path class="h" d="M1111.2,410.7 1178,409.2 1193.2,420.8M1178,409.2 1178,362.5"/>
<polygon fill="url(#g22)" points="1177,421.2 1193.2,420.8 1193.2,374 1177,374.4"/><polygon fill="url(#g23)" points="1177,374.4 1193.2,374 1178,362.5 1161.7,362.8"/>
<path class="b" fill="#8c0000" d="M764.2,394.3 841.6,392.6 841.6,345.8 826.3,334.3 748.9,336 748.9,382.7Z"/><path class="e" d="M764.2,394.3 764.2,347.5 841.6,345.8M764.2,347.5 748.9,336"/><path class="h" d="M748.9,382.7 826.3,381 841.6,392.6M826.3,381 826.3,334.3"/>
<path class="b" fill="#600000" d="M678.7,395.2 756,393.5 756,346.8 740.8,335.2 663.4,336.9 663.4,383.6Z"/><path class="e" d="M678.7,395.2 678.7,348.5 756,346.8M678.7,348.5 663.4,336.9"/><path class="h" d="M663.4,383.6 740.8,381.9 756,393.5M740.8,381.9 740.8,335.2"/>
<path class="b" fill="#200000" d="M507.5,398.9 584.9,397.2 584.9,350.5 569.6,338.9 492.2,340.6 492.2,387.3Z"/><path class="e" d="M507.5,398.9 507.5,352.2 584.9,350.5M507.5,352.2 492.2,340.6"/><path class="h" d="M492.2,387.3 569.6,385.6 584.9,397.2M569.6,385.6 569.6,338.9"/>
<path class="b" fill="#f00000" d="M975.5,370.3 1052.9,368.6 1052.9,321.8 1037.6,310.2 960.2,311.9 960.2,358.7Z"/><path class="e" d="M975.5,370.3 975.5,323.5 1052.9,321.8M975.5,323.5 960.2,311.9"/><path class="h" d="M960.2,358.7 1037.6,357 1052.9,368.6M1037.6,357 1037.6,310.2"/>
<path class="b" fill="#140000" d="M477.9,359.4 555.3,357.7 555.3,311 540,299.4 462.7,301.1 462.7,347.9Z"/><path class="e" d="M477.9,359.4 477.9,312.7 555.3,311M477.9,312.7 462.7,301.1"/><path class="h" d="M462.7,347.9 540,346.2 555.3,357.7M540,346.2 540,299.4"/>
<path class="b" fill="#fa0000" d="M1094.7,344 1172.1,342.3 1172.1,295.5 1156.8,284 1079.4,285.7 1079.4,332.4Z"/><path class="e" d="M1094.7,344 1094.7,297.2 1172.1,295.5M1094.7,297.2 1079.4,285.7"/><path class="h" d="M1079.4,332.4 1156.8,330.7 1172.1,342.3M1156.8,330.7 1156.8,284"/>
<path class="b" fill="#470000" d="M600.6,352.5 678,350.8 678,304 662.7,292.5 585.4,294.2 585.4,340.9Z"/><path class="e" d="M600.6,352.5 600.6,305.7 678,304M600.6,305.7 585.4,294.2"/><path class="h" d="M585.4,340.9 662.7,339.2 678,350.8M662.7,339.2 662.7,292.5"/>
<path class="b" fill="#030000" d="M406.7,356 462.7,354.7 462.7,308 447.4,296.4 391.4,297.6 391.4,344.4Z"/><path class="e" d="M406.7,356 406.7,309.2 462.7,308M406.7,309.2 391.4,297.6"/><path class="h" d="M391.4,344.4 447.4,343.2 462.7,354.7M447.4,343.2 447.4,296.4"/>
<path class="b" fill="#eb0000" d="M896.2,299.3 973.6,297.6 973.6,250.8 958.3,239.2 881,240.9 881,287.7Z"/><path class="e" d="M896.2,299.3 896.2,252.5 973.6,250.8M896.2,252.5 881,240.9"/><path class="h" d="M881,287.7 958.3,286 973.6,297.6M958.3,286 958.3,239.2"/>
<path class="b" fill="#370000" d="M660,301.8 737.4,300.1 737.4,253.3 722.1,241.7 644.7,243.4 644.7,290.2Z"/><path class="e" d="M660,301.8 660,255 737.4,253.3M660,255 644.7,243.4"/><path class="h" d="M644.7,290.2 722.1,288.5 737.4,300.1M722.1,288.5 722.1,241.7"/>
<path class="b" fill="#1c0000" d="M506,304.3 583.4,302.6 583.4,255.8 568.1,244.2 490.7,245.9 490.7,292.7Z"/><path class="e" d="M506,304.3 506,257.5 583.4,255.8M506,257.5 490.7,245.9"/><path class="h" d="M490.7,292.7 568.1,291 583.4,302.6M568.1,291 568.1,244.2"/>
<path class="b" fill="#280000" d="M582.5,301.8 659.9,300.1 659.9,253.3 644.6,241.7 567.2,243.4 567.2,290.2Z"/><path class="e" d="M582.5,301.8 582.5,255 659.9,253.3M582.5,255 567.2,243.4"/><path class="h" d="M567.2,290.2 644.6,288.5 659.9,300.1M644.6,288.5 644.6,241.7"/>
<path class="b" fill="#3e0000" d="M695,941.8 772.4,940.1 772.4,893.3 757.1,881.7 679.7,883.4 679.7,930.2Z"/><path class="e" d="M695,941.8 695,895 772.4,893.3M695,895 679.7,883.4"/><path class="h" d="M679.7,930.2 757.1,928.5 772.4,940.1M757.1,928.5 757.1,881.7"/>
<path class="b" fill="#0b0000" d="M463.5,943.1 540.8,941.4 540.8,894.6 525.6,883.1 448.2,884.8 448.2,931.5Z"/><path class="e" d="M463.5,943.1 463.5,896.3 540.8,894.6M463.5,896.3 448.2,884.8"/><path class="h" d="M448.2,931.5 525.6,929.8 540.8,941.4M525.6,929.8 525.6,883.1"/>
<path class="b" fill="#550000" d="M851.2,934.3 928.6,932.6 928.6,885.8 913.3,874.2 836,875.9 836,922.7Z"/><path class="e" d="M851.2,934.3 851.2,887.5 928.6,885.8M851.2,887.5 836,875.9"/><path class="h" d="M836,922.7 913.3,921 928.6,932.6M913.3,921 913.3,874.2"/>
<path class="b" fill="#3a0000" d="M773.8,935.5 851.1,933.8 851.1,887 835.9,875.5 758.5,877.2 758.5,923.9Z"/><path class="e" d="M773.8,935.5 773.8,888.8 851.1,887M773.8,888.8 758.5,877.2"/><path class="h" d="M758.5,923.9 835.9,922.2 851.1,933.8M835.9,922.2 835.9,875.5"/>
<path class="b" fill="#fa0000" d="M992.5,927.3 1069.9,925.6 1069.9,878.8 1054.6,867.2 977.2,868.9 977.2,915.7Z"/><path class="e" d="M992.5,927.3 992.5,880.5 1069.9,878.8M992.5,880.5 977.2,868.9"/><path class="h" d="M977.2,915.7 1054.6,914 1069.9,925.6M1054.6,914 1054.6,867.2"/>
<path class="f" fill="#fa0000" d="M1150,915.5 1208.5,914.2 1208.5,867.5 1193.2,855.9 1134.7,857.2 1134.7,903.9Z"/><path class="e" d="M1193.2,855.9 1134.7,857.2 1134.7,903.9 1150,915.5 1208.5,914.2M1150,915.5 1150,868.8 1208.5,867.5M1150,868.8 1134.7,857.2"/><path class="h" d="M1134.7,903.9 1193.2,902.7 1208.5,914.2M1193.2,902.7 1193.2,855.9"/>
<polygon fill="url(#g24)" points="1192.3,914.6 1208.5,914.2 1208.5,867.5 1192.3,867.8"/><polygon fill="url(#g25)" points="1192.3,867.8 1208.5,867.5 1193.2,855.9 1177,856.2"/>
<path class="b" fill="#030000" d="M432.5,895.2 509.9,893.5 509.9,846.8 494.6,835.2 417.2,836.9 417.2,883.7Z"/><path class="e" d="M432.5,895.2 432.5,848.5 509.9,846.8M432.5,848.5 417.2,836.9"/><path class="h" d="M417.2,883.7 494.6,882 509.9,893.5M494.6,882 494.6,835.2"/>
<path class="b" fill="#1e0000" d="M510.6,891.7 588,890 588,843.2 572.7,831.6 495.4,833.3 495.4,880.1Z"/><path class="e" d="M510.6,891.7 510.6,844.9 588,843.2M510.6,844.9 495.4,833.3"/><path class="h" d="M495.4,880.1 572.7,878.4 588,890M572.7,878.4 572.7,831.6"/>
<path class="b" fill="#030000" d="M421.9,849 466.4,848 466.4,801.2 451.2,789.7 406.7,790.6 406.7,837.4Z"/><path class="e" d="M421.9,849 421.9,802.2 466.4,801.2M421.9,802.2 406.7,790.6"/><path class="h" d="M406.7,837.4 451.2,836.4 466.4,848M451.2,836.4 451.2,789.7"/>
<path class="b" fill="#ff0000" d="M1117.5,833 1194.9,831.3 1194.9,784.5 1179.6,772.9 1102.2,774.6 1102.2,821.4Z"/><path class="e" d="M1117.5,833 1117.5,786.2 1194.9,784.5M1117.5,786.2 1102.2,774.6"/><path class="h" d="M1102.2,821.4 1179.6,819.7 1194.9,831.3M1179.6,819.7 1179.6,772.9"/>
<path class="b" fill="#0f0000" d="M467.2,846.3 544.6,844.6 544.6,797.8 529.3,786.3 451.9,788 451.9,834.7Z"/><path class="e" d="M467.2,846.3 467.2,799.5 544.6,797.8M467.2,799.5 451.9,788"/><path class="h" d="M451.9,834.7 529.3,833 544.6,844.6M529.3,833 529.3,786.3"/>
<path class="b" fill="#2b0000" d="M623.5,840.7 700.9,839 700.9,792.2 685.6,780.7 608.2,782.4 608.2,829.1Z"/><path class="e" d="M623.5,840.7 623.5,793.9 700.9,792.2M623.5,793.9 608.2,782.4"/><path class="h" d="M608.2,829.1 685.6,827.4 700.9,839M685.6,827.4 685.6,780.7"/>
<path class="b" fill="#8c0000" d="M720.5,837.8 797.9,836.1 797.9,789.3 782.6,777.7 705.2,779.4 705.2,826.2Z"/><path class="e" d="M720.5,837.8 720.5,791 797.9,789.3M720.5,791 705.2,779.4"/><path class="h" d="M705.2,826.2 782.6,824.5 797.9,836.1M782.6,824.5 782.6,777.7"/>
<path class="b" fill="#210000" d="M545.4,841.1 622.7,839.4 622.7,792.6 607.5,781.1 530.1,782.8 530.1,829.5Z"/><path class="e" d="M545.4,841.1 545.4,794.3 622.7,792.6M545.4,794.3 530.1,782.8"/><path class="h" d="M530.1,829.5 607.5,827.8 622.7,839.4M607.5,827.8 607.5,781.1"/>
<path class="b" fill="#f90000" d="M984.6,788.1 1062,786.4 1062,739.6 1046.7,728.1 969.3,729.8 969.3,776.5Z"/><path class="e" d="M984.6,788.1 984.6,741.3 1062,739.6M984.6,741.3 969.3,729.8"/><path class="h" d="M969.3,776.5 1046.7,774.8 1062,786.4M1046.7,774.8 1046.7,728.1"/>
<path class="b" fill="#030000" d="M423.2,799.5 500.6,797.8 500.6,751.1 485.3,739.5 407.9,741.2 407.9,787.9Z"/><path class="e" d="M423.2,799.5 423.2,752.8 500.6,751.1M423.2,752.8 407.9,741.2"/><path class="h" d="M407.9,787.9 485.3,786.2 500.6,797.8M485.3,786.2 485.3,739.5"/>
<path class="b" fill="#e30000" d="M906.4,788.5 983.8,786.8 983.8,740 968.5,728.5 891.2,730.2 891.2,776.9Z"/><path class="e" d="M906.4,788.5 906.4,741.7 983.8,740M906.4,741.7 891.2,730.2"/><path class="h" d="M891.2,776.9 968.5,775.2 983.8,786.8M968.5,775.2 968.5,728.5"/>
<path class="b" fill="#eb0000" d="M828.3,788.8 905.7,787.1 905.7,740.4 890.4,728.8 813,730.5 813,777.2Z"/><path class="e" d="M828.3,788.8 828.3,742.1 905.7,740.4M828.3,742.1 813,730.5"/><path class="h" d="M813,777.2 890.4,775.5 905.7,787.1M890.4,775.5 890.4,728.8"/>
<path class="b" fill="#2d0000" d="M579.5,792.6 656.8,790.9 656.8,744.2 641.6,732.6 564.2,734.3 564.2,781Z"/><path class="e" d="M579.5,792.6 579.5,745.9 656.8,744.2M579.5,745.9 564.2,734.3"/><path class="h" d="M564.2,781 641.6,779.3 656.8,790.9M641.6,779.3 641.6,732.6"/>
<path class="b" fill="#1e0000" d="M501.3,793.3 578.7,791.6 578.7,744.9 563.4,733.3 486,735 486,781.8Z"/><path class="e" d="M501.3,793.3 501.3,746.6 578.7,744.9M501.3,746.6 486,735"/><path class="h" d="M486,781.8 563.4,780.1 578.7,791.6M563.4,780.1 563.4,733.3"/>
<path class="b" fill="#fa0000" d="M1130,775.5 1207.4,773.8 1207.4,727 1192.1,715.5 1114.7,717.2 1114.7,763.9Z"/><path class="e" d="M1130,775.5 1130,728.8 1207.4,727M1130,728.8 1114.7,717.2"/><path class="h" d="M1114.7,763.9 1192.1,762.2 1207.4,773.8M1192.1,762.2 1192.1,715.5"/>
<path class="b" fill="#a90000" d="M824.1,744.6 901.5,742.9 901.5,696.2 886.2,684.6 808.8,686.3 808.8,733Z"/><path class="e" d="M824.1,744.6 824.1,697.9 901.5,696.2M824.1,697.9 808.8,686.3"/><path class="h" d="M808.8,733 886.2,731.3 901.5,742.9M886.2,731.3 886.2,684.6"/>
<path class="b" fill="#700000" d="M746,746 823.3,744.3 823.3,697.6 808.1,686 730.7,687.7 730.7,734.5Z"/><path class="e" d="M746,746 746,699.3 823.3,697.6M746,699.3 730.7,687.7"/><path class="h" d="M730.7,734.5 808.1,732.8 823.3,744.3M808.1,732.8 808.1,686"/>
<path class="b" fill="#220000" d="M511.5,749.6 588.9,747.9 588.9,701.2 573.6,689.6 496.2,691.3 496.2,738Z"/><path class="e" d="M511.5,749.6 511.5,702.9 588.9,701.2M511.5,702.9 496.2,691.3"/><path class="h" d="M496.2,738 573.6,736.3 588.9,747.9M573.6,736.3 573.6,689.6"/>
<path class="b" fill="#030000" d="M433.4,750.5 510.7,748.8 510.7,702.1 495.5,690.5 418.1,692.2 418.1,739Z"/><path class="e" d="M433.4,750.5 433.4,703.8 510.7,702.1M433.4,703.8 418.1,692.2"/><path class="h" d="M418.1,739 495.5,737.3 510.7,748.8M495.5,737.3 495.5,690.5"/>
<path class="b" fill="#f00000" d="M971.5,715.3 1048.9,713.6 1048.9,666.8 1033.6,655.2 956.2,656.9 956.2,703.7Z"/><path class="e" d="M971.5,715.3 971.5,668.5 1048.9,666.8M971.5,668.5 956.2,656.9"/><path class="h" d="M956.2,703.7 1033.6,702 1048.9,713.6M1033.6,702 1033.6,655.2"/>
<path class="b" fill="#960000" d="M799,697.8 876.4,696.1 876.4,649.3 861.1,637.7 783.7,639.4 783.7,686.2Z"/><path class="e" d="M799,697.8 799,651 876.4,649.3M799,651 783.7,639.4"/><path class="h" d="M783.7,686.2 861.1,684.5 876.4,696.1M861.1,684.5 861.1,637.7"/>
<path class="b" fill="#630000" d="M678.1,696.5 755.4,694.8 755.4,648.1 740.2,636.5 662.8,638.2 662.8,685Z"/><path class="e" d="M678.1,696.5 678.1,649.8 755.4,648.1M678.1,649.8 662.8,638.2"/><path class="h" d="M662.8,685 740.2,683.3 755.4,694.8M740.2,683.3 740.2,636.5"/>
<path class="b" fill="#030000" d="M435.6,700.7 513,699 513,652.2 497.7,640.6 420.3,642.3 420.3,689.1Z"/><path class="e" d="M435.6,700.7 435.6,653.9 513,652.2M435.6,653.9 420.3,642.3"/><path class="h" d="M420.3,689.1 497.7,687.4 513,699M497.7,687.4 497.7,640.6"/>
<path class="b" fill="#f40000" d="M986.5,648.8 1063.8,647.1 1063.8,600.3 1048.6,588.8 971.2,590.5 971.2,637.2Z"/><path class="e" d="M986.5,648.8 986.5,602 1063.8,600.3M986.5,602 971.2,590.5"/><path class="h" d="M971.2,637.2 1048.6,635.5 1063.8,647.1M1048.6,635.5 1048.6,588.8"/>
<path class="b" fill="#120000" d="M474.7,659.4 552,657.7 552,610.9 536.8,599.3 459.4,601 459.4,647.8Z"/><path class="e" d="M474.7,659.4 474.7,612.6 552,610.9M474.7,612.6 459.4,601"/><path class="h" d="M459.4,647.8 536.8,646.1 552,657.7M536.8,646.1 536.8,599.3"/>
<path class="b" fill="#030000" d="M421.9,660.4 473.9,659.3 473.9,612.5 458.6,601 406.7,602.1 406.7,648.9Z"/><path class="e" d="M421.9,660.4 421.9,613.7 473.9,612.5M421.9,613.7 406.7,602.1"/><path class="h" d="M406.7,648.9 458.6,647.7 473.9,659.3M458.6,647.7 458.6,601"/>
<path class="b" fill="#b90000" d="M860.5,647.2 937.9,645.5 937.9,598.7 922.6,587.1 845.2,588.8 845.2,635.6Z"/><path class="e" d="M860.5,647.2 860.5,600.4 937.9,598.7M860.5,600.4 845.2,588.8"/><path class="h" d="M845.2,635.6 922.6,633.9 937.9,645.5M922.6,633.9 922.6,587.1"/>
<path class="b" fill="#9e0000" d="M745.5,641.3 822.9,639.6 822.9,592.8 807.6,581.2 730.2,582.9 730.2,629.7Z"/><path class="e" d="M745.5,641.3 745.5,594.5 822.9,592.8M745.5,594.5 730.2,582.9"/><path class="h" d="M730.2,629.7 807.6,628 822.9,639.6M807.6,628 807.6,581.2"/>
<path class="b" fill="#030000" d="M421.9,613.3 480.6,612 480.6,565.3 465.3,553.7 406.7,555 406.7,601.8Z"/><path class="e" d="M421.9,613.3 421.9,566.6 480.6,565.3M421.9,566.6 406.7,555"/><path class="h" d="M406.7,601.8 465.3,600.5 480.6,612M465.3,600.5 465.3,553.7"/>
<path class="b" fill="#1c0000" d="M497,611.2 574.4,609.5 574.4,562.8 559.1,551.2 481.7,552.9 481.7,599.6Z"/><path class="e" d="M497,611.2 497,564.5 574.4,562.8M497,564.5 481.7,552.9"/><path class="h" d="M481.7,599.6 559.1,597.9 574.4,609.5M559.1,597.9 559.1,551.2"/>
<path class="b" fill="#f00000" d="M1025.1,598.6 1102.5,596.9 1102.5,550.2 1087.2,538.6 1009.8,540.3 1009.8,587Z"/><path class="e" d="M1025.1,598.6 1025.1,551.9 1102.5,550.2M1025.1,551.9 1009.8,540.3"/><path class="h" d="M1009.8,587 1087.2,585.3 1102.5,596.9M1087.2,585.3 1087.2,538.6"/>
<path class="b" fill="#570000" d="M629.7,606.1 707,604.4 707,557.7 691.8,546.1 614.4,547.8 614.4,594.5Z"/><path class="e" d="M629.7,606.1 629.7,559.4 707,557.7M629.7,559.4 614.4,547.8"/><path class="h" d="M614.4,594.5 691.8,592.8 707,604.4M691.8,592.8 691.8,546.1"/>
<path class="f" fill="#ff0000" d="M1152.8,594.1 1208.5,592.8 1208.5,546.1 1193.2,534.5 1137.5,535.7 1137.5,582.5Z"/><path class="e" d="M1193.2,534.5 1137.5,535.7 1137.5,582.5 1152.8,594.1 1208.5,592.8M1152.8,594.1 1152.8,547.3 1208.5,546.1M1152.8,547.3 1137.5,535.7"/><path class="h" d="M1137.5,582.5 1193.2,581.3 1208.5,592.8M1193.2,581.3 1193.2,534.5"/>
<polygon fill="url(#g26)" points="1192.3,593.2 1208.5,592.8 1208.5,546.1 1192.3,546.4"/><polygon fill="url(#g27)" points="1192.3,546.4 1208.5,546.1 1193.2,534.5 1177,534.9"/>
<path class="b" fill="#d50000" d="M946.9,597.5 1024.3,595.8 1024.3,549.1 1009,537.5 931.7,539.2 931.7,585.9Z"/><path class="e" d="M946.9,597.5 946.9,550.8 1024.3,549.1M946.9,550.8 931.7,539.2"/><path class="h" d="M931.7,585.9 1009,584.2 1024.3,595.8M1009,584.2 1009,537.5"/>
<path class="b" fill="#a50000" d="M824,590.3 901.4,588.6 901.4,541.8 886.1,530.2 808.7,531.9 808.7,578.7Z"/><path class="e" d="M824,590.3 824,543.5 901.4,541.8M824,543.5 808.7,531.9"/><path class="h" d="M808.7,578.7 886.1,577 901.4,588.6M886.1,577 886.1,530.2"/>
<path class="b" fill="#d00000" d="M924.9,555.7 1002.2,554 1002.2,507.3 987,495.7 909.6,497.4 909.6,544.1Z"/><path class="e" d="M924.9,555.7 924.9,509 1002.2,507.3M924.9,509 909.6,497.4"/><path class="h" d="M909.6,544.1 987,542.4 1002.2,554M987,542.4 987,495.7"/>
<path class="f" fill="#ef0000" d="M1174.2,548.3 1208.5,547.5 1208.5,500.8 1193.2,489.2 1158.9,490 1158.9,536.7Z"/><path class="e" d="M1193.2,489.2 1158.9,490 1158.9,536.7 1174.2,548.3 1208.5,547.5M1174.2,548.3 1174.2,501.5 1208.5,500.8M1174.2,501.5 1158.9,490"/><path class="h" d="M1158.9,536.7 1193.2,536 1208.5,547.5M1193.2,536 1193.2,489.2"/>
<polygon fill="url(#g28)" points="1192.3,547.9 1208.5,547.5 1208.5,500.8 1192.3,501.1"/><polygon fill="url(#g29)" points="1192.3,501.1 1208.5,500.8 1193.2,489.2 1177,489.6"/>
<path class="b" fill="#ff0000" d="M1081.2,549.8 1158.5,548.1 1158.5,501.3 1143.3,489.7 1065.9,491.4 1065.9,538.2Z"/><path class="e" d="M1081.2,549.8 1081.2,503 1158.5,501.3M1081.2,503 1065.9,491.4"/><path class="h" d="M1065.9,538.2 1143.3,536.5 1158.5,548.1M1143.3,536.5 1143.3,489.7"/>
<path class="b" fill="#ee0000" d="M1003,551.4 1080.4,549.7 1080.4,503 1065.1,491.4 987.7,493.1 987.7,539.9Z"/><path class="e" d="M1003,551.4 1003,504.7 1080.4,503M1003,504.7 987.7,493.1"/><path class="h" d="M987.7,539.9 1065.1,538.2 1080.4,549.7M1065.1,538.2 1065.1,491.4"/>
<path class="b" fill="#690000" d="M637.7,556.7 715.1,555 715.1,508.3 699.8,496.7 622.4,498.4 622.4,545.1Z"/><path class="e" d="M637.7,556.7 637.7,510 715.1,508.3M637.7,510 622.4,498.4"/><path class="h" d="M622.4,545.1 699.8,543.4 715.1,555M699.8,543.4 699.8,496.7"/>
<path class="b" fill="#360000" d="M559.5,557.7 636.9,556 636.9,509.2 621.6,497.6 544.3,499.3 544.3,546.1Z"/><path class="e" d="M559.5,557.7 559.5,510.9 636.9,509.2M559.5,510.9 544.3,499.3"/><path class="h" d="M544.3,546.1 621.6,544.4 636.9,556M621.6,544.4 621.6,497.6"/>
<path class="b" fill="#150000" d="M481.4,558.4 558.8,556.7 558.8,510 543.5,498.4 466.1,500.1 466.1,546.8Z"/><path class="e" d="M481.4,558.4 481.4,511.7 558.8,510M481.4,511.7 466.1,500.1"/><path class="h" d="M466.1,546.8 543.5,545.1 558.8,556.7M543.5,545.1 543.5,498.4"/>
<path class="b" fill="#030000" d="M421.9,558.3 480.6,557 480.6,510.2 465.3,498.7 406.7,500 406.7,546.7Z"/><path class="e" d="M421.9,558.3 421.9,511.5 480.6,510.2M421.9,511.5 406.7,500"/><path class="h" d="M406.7,546.7 465.3,545.4 480.6,557M465.3,545.4 465.3,498.7"/>
<path class="b" fill="#7b0000" d="M725.3,549.4 802.7,547.7 802.7,501 787.4,489.4 710,491.1 710,537.9Z"/><path class="e" d="M725.3,549.4 725.3,502.7 802.7,501M725.3,502.7 710,491.1"/><path class="h" d="M710,537.9 787.4,536.2 802.7,547.7M787.4,536.2 787.4,489.4"/>
<path class="b" fill="#8c0000" d="M747.8,506.2 825.2,504.5 825.2,457.7 809.9,446.1 732.5,447.8 732.5,494.6Z"/><path class="e" d="M747.8,506.2 747.8,459.4 825.2,457.7M747.8,459.4 732.5,447.8"/><path class="h" d="M732.5,494.6 809.9,492.9 825.2,504.5M809.9,492.9 809.9,446.1"/>
<path class="b" fill="#a30000" d="M826,504.4 903.3,502.7 903.3,455.9 888.1,444.3 810.7,446 810.7,492.8Z"/><path class="e" d="M826,504.4 826,457.6 903.3,455.9M826,457.6 810.7,446"/><path class="h" d="M810.7,492.8 888.1,491.1 903.3,502.7M888.1,491.1 888.1,444.3"/>
<path class="b" fill="#290000" d="M531.2,510.8 608.6,509.1 608.6,462.3 593.3,450.7 516,452.4 516,499.2Z"/><path class="e" d="M531.2,510.8 531.2,464 608.6,462.3M531.2,464 516,452.4"/><path class="h" d="M516,499.2 593.3,497.5 608.6,509.1M593.3,497.5 593.3,450.7"/>
<path class="b" fill="#680000" d="M652.7,507.8 730,506.1 730,459.4 714.8,447.8 637.4,449.5 637.4,496.2Z"/><path class="e" d="M652.7,507.8 652.7,461.1 730,459.4M652.7,461.1 637.4,449.5"/><path class="h" d="M637.4,496.2 714.8,494.5 730,506.1M714.8,494.5 714.8,447.8"/>
<path class="b" fill="#dc0000" d="M977.8,499.6 1055.1,497.9 1055.1,451.2 1039.9,439.6 962.5,441.3 962.5,488Z"/><path class="e" d="M977.8,499.6 977.8,452.9 1055.1,451.2M977.8,452.9 962.5,441.3"/><path class="h" d="M962.5,488 1039.9,486.3 1055.1,497.9M1039.9,486.3 1039.9,439.6"/>
<path class="b" fill="#050000" d="M437,502.8 514.4,501.1 514.4,454.3 499.1,442.7 421.7,444.4 421.7,491.2Z"/><path class="e" d="M437,502.8 437,456 514.4,454.3M437,456 421.7,444.4"/><path class="h" d="M421.7,491.2 499.1,489.5 514.4,501.1M499.1,489.5 499.1,442.7"/>
<path class="b" fill="#fa0000" d="M1065,444.3 1142.4,442.6 1142.4,395.8 1127.1,384.2 1049.7,385.9 1049.7,432.7Z"/><path class="e" d="M1065,444.3 1065,397.5 1142.4,395.8M1065,397.5 1049.7,385.9"/><path class="h" d="M1049.7,432.7 1127.1,431 1142.4,442.6M1127.1,431 1127.1,384.2"/>
<path class="b" fill="#9b0000" d="M843.8,444.3 921.1,442.6 921.1,395.8 905.9,384.2 828.5,385.9 828.5,432.7Z"/><path class="e" d="M843.8,444.3 843.8,397.5 921.1,395.8M843.8,397.5 828.5,385.9"/><path class="h" d="M828.5,432.7 905.9,431 921.1,442.6M905.9,431 905.9,384.2"/>
<path class="b" fill="#780000" d="M670.5,445.3 747.9,443.6 747.9,396.8 732.6,385.2 655.2,386.9 655.2,433.7Z"/><path class="e" d="M670.5,445.3 670.5,398.5 747.9,396.8M670.5,398.5 655.2,386.9"/><path class="h" d="M655.2,433.7 732.6,432 747.9,443.6M732.6,432 732.6,385.2"/>
<path class="b" fill="#080000" d="M440,438.8 517.4,437.1 517.4,390.3 502.1,378.7 424.7,380.4 424.7,427.2Z"/><path class="e" d="M440,438.8 440,392 517.4,390.3M440,392 424.7,380.4"/><path class="h" d="M424.7,427.2 502.1,425.5 517.4,437.1M502.1,425.5 502.1,378.7"/>
<path class="b" fill="#330000" d="M552.3,417.1 629.7,415.4 629.7,368.6 614.4,357 537,358.7 537,405.5Z"/><path class="e" d="M552.3,417.1 552.3,370.3 629.7,368.6M552.3,370.3 537,358.7"/><path class="h" d="M537,405.5 614.4,403.8 629.7,415.4M614.4,403.8 614.4,357"/>
<path class="b" fill="#aa0000" d="M835,384.3 912.4,382.6 912.4,335.8 897.1,324.2 819.7,325.9 819.7,372.7Z"/><path class="e" d="M835,384.3 835,337.5 912.4,335.8M835,337.5 819.7,325.9"/><path class="h" d="M819.7,372.7 897.1,371 912.4,382.6M897.1,371 897.1,324.2"/>
<path class="b" fill="#fa0000" d="M1084,377.8 1161.4,376.1 1161.4,329.3 1146.1,317.7 1068.7,319.4 1068.7,366.2Z"/><path class="e" d="M1084,377.8 1084,331 1161.4,329.3M1084,331 1068.7,319.4"/><path class="h" d="M1068.7,366.2 1146.1,364.5 1161.4,376.1M1146.1,364.5 1146.1,317.7"/>
<path class="b" fill="#d70000" d="M912.5,375.5 989.9,373.8 989.9,327 974.6,315.5 897.2,317.2 897.2,363.9Z"/><path class="e" d="M912.5,375.5 912.5,328.8 989.9,327M912.5,328.8 897.2,317.2"/><path class="h" d="M897.2,363.9 974.6,362.2 989.9,373.8M974.6,362.2 974.6,315.5"/>
<path class="f" fill="#fa0000" d="M1146.8,359 1208.5,357.7 1208.5,310.9 1193.2,299.3 1131.5,300.7 1131.5,347.4Z"/><path class="e" d="M1193.2,299.3 1131.5,300.7 1131.5,347.4 1146.8,359 1208.5,357.7M1146.8,359 1146.8,312.2 1208.5,310.9M1146.8,312.2 1131.5,300.7"/><path class="h" d="M1131.5,347.4 1193.2,346.1 1208.5,357.7M1193.2,346.1 1193.2,299.3"/>
<polygon fill="url(#g30)" points="1192.3,358 1208.5,357.7 1208.5,310.9 1192.3,311.2"/><polygon fill="url(#g31)" points="1192.3,311.2 1208.5,310.9 1193.2,299.3 1177,299.7"/>
<path class="b" fill="#7d0000" d="M741.2,367.8 818.6,366.1 818.6,319.3 803.4,307.7 726,309.4 726,356.2Z"/><path class="e" d="M741.2,367.8 741.2,321 818.6,319.3M741.2,321 726,309.4"/><path class="h" d="M726,356.2 803.4,354.5 818.6,366.1M803.4,354.5 803.4,307.7"/>
<path class="b" fill="#500000" d="M662.5,367.8 739.9,366.1 739.9,319.3 724.6,307.7 647.2,309.4 647.2,356.2Z"/><path class="e" d="M662.5,367.8 662.5,321 739.9,319.3M662.5,321 647.2,309.4"/><path class="h" d="M647.2,356.2 724.6,354.5 739.9,366.1M724.6,354.5 724.6,307.7"/>
<path class="b" fill="#030000" d="M421.9,370.8 489.1,369.3 489.1,322.5 473.9,311 406.7,312.4 406.7,359.2Z"/><path class="e" d="M421.9,370.8 421.9,324 489.1,322.5M421.9,324 406.7,312.4"/><path class="h" d="M406.7,359.2 473.9,357.7 489.1,369.3M473.9,357.7 473.9,311"/>
<path class="b" fill="#3a0000" d="M568.1,365.5 645.4,363.8 645.4,317 630.2,305.4 552.8,307.1 552.8,353.9Z"/><path class="e" d="M568.1,365.5 568.1,318.7 645.4,317M568.1,318.7 552.8,307.1"/><path class="h" d="M552.8,353.9 630.2,352.2 645.4,363.8M630.2,352.2 630.2,305.4"/>
<path class="b" fill="#190000" d="M489.9,366.7 567.3,365 567.3,318.2 552,306.7 474.6,308.4 474.6,355.1Z"/><path class="e" d="M489.9,366.7 489.9,319.9 567.3,318.2M489.9,319.9 474.6,308.4"/><path class="h" d="M474.6,355.1 552,353.4 567.3,365M552,353.4 552,306.7"/>
<path class="b" fill="#8c0000" d="M926.3,318 1003.6,316.3 1003.6,269.6 988.4,258 911,259.7 911,306.4Z"/><path class="e" d="M926.3,318 926.3,271.2 1003.6,269.6M926.3,271.2 911,259.7"/><path class="h" d="M911,306.4 988.4,304.7 1003.6,316.3M988.4,304.7 988.4,258"/>
<path class="b" fill="#030000" d="M421.9,326.5 466.6,325.5 466.6,278.7 451.3,267.2 406.7,268.1 406.7,314.9Z"/><path class="e" d="M421.9,326.5 421.9,279.7 466.6,278.7M421.9,279.7 406.7,268.1"/><path class="h" d="M406.7,314.9 451.3,313.9 466.6,325.5M451.3,313.9 451.3,267.2"/>
<path class="b" fill="#fa0000" d="M1068.8,311.8 1146.1,310.1 1146.1,263.3 1130.9,251.7 1053.5,253.4 1053.5,300.2Z"/><path class="e" d="M1068.8,311.8 1068.8,265 1146.1,263.3M1068.8,265 1053.5,253.4"/><path class="h" d="M1053.5,300.2 1130.9,298.5 1146.1,310.1M1130.9,298.5 1130.9,251.7"/>
<path class="b" fill="#6e0000" d="M771.2,318 848.6,316.3 848.6,269.5 833.4,258 756,259.7 756,306.4Z"/><path class="e" d="M771.2,318 771.2,271.2 848.6,269.5M771.2,271.2 756,259.7"/><path class="h" d="M756,306.4 833.4,304.7 848.6,316.3M833.4,304.7 833.4,258"/>
<path class="b" fill="#080000" d="M458.8,954.3 536.1,952.6 536.1,905.8 520.9,894.2 443.5,895.9 443.5,942.7Z"/><path class="e" d="M458.8,954.3 458.8,907.5 536.1,905.8M458.8,907.5 443.5,895.9"/><path class="h" d="M443.5,942.7 520.9,941 536.1,952.6M520.9,941 520.9,894.2"/>
<path class="b" fill="#1e0000" d="M540,949.3 617.4,947.6 617.4,900.8 602.1,889.2 524.7,890.9 524.7,937.7Z"/><path class="e" d="M540,949.3 540,902.5 617.4,900.8M540,902.5 524.7,890.9"/><path class="h" d="M524.7,937.7 602.1,936 617.4,947.6M602.1,936 602.1,889.2"/>
<path class="b" fill="#1c0000" d="M530,878.8 607.4,877.1 607.4,830.3 592.1,818.7 514.7,820.4 514.7,867.2Z"/><path class="e" d="M530,878.8 530,832 607.4,830.3M530,832 514.7,820.4"/><path class="h" d="M514.7,867.2 592.1,865.5 607.4,877.1M592.1,865.5 592.1,818.7"/>
<path class="b" fill="#260000" d="M610,872.8 687.4,871.1 687.4,824.3 672.1,812.7 594.7,814.4 594.7,861.2Z"/><path class="e" d="M610,872.8 610,826 687.4,824.3M610,826 594.7,814.4"/><path class="h" d="M594.7,861.2 672.1,859.5 687.4,871.1M672.1,859.5 672.1,812.7"/>
<path class="b" fill="#fa0000" d="M1078.8,855.5 1156.1,853.8 1156.1,807 1140.8,795.5 1063.5,797.2 1063.5,843.9Z"/><path class="e" d="M1078.8,855.5 1078.8,808.8 1156.1,807M1078.8,808.8 1063.5,797.2"/><path class="h" d="M1063.5,843.9 1140.8,842.2 1156.1,853.8M1140.8,842.2 1140.8,795.5"/>
<path class="b" fill="#320000" d="M687.5,862.3 764.9,860.6 764.9,813.8 749.6,802.2 672.2,803.9 672.2,850.7Z"/><path class="e" d="M687.5,862.3 687.5,815.5 764.9,813.8M687.5,815.5 672.2,803.9"/><path class="h" d="M672.2,850.7 749.6,849 764.9,860.6M749.6,849 749.6,802.2"/>
<path class="f" fill="#fa0000" d="M1157.5,851.8 1223.8,850.3 1223.8,803.5 1208.5,792 1142.2,793.4 1142.2,840.2Z"/><path class="e" d="M1208.5,792 1142.2,793.4 1142.2,840.2 1157.5,851.8 1223.8,850.3M1157.5,851.8 1157.5,805 1223.8,803.5M1157.5,805 1142.2,793.4"/><path class="h" d="M1142.2,840.2 1208.5,838.7 1223.8,850.3M1208.5,838.7 1208.5,792"/>
<polygon fill="url(#g32)" points="1207.5,850.7 1223.8,850.3 1223.8,803.5 1207.5,803.9"/><polygon fill="url(#g33)" points="1207.5,803.9 1223.8,803.5 1208.5,792 1192.3,792.3"/>
<path class="b" fill="#f00000" d="M907.5,848 984.9,846.3 984.9,799.5 969.6,788 892.2,789.7 892.2,836.4Z"/><path class="e" d="M907.5,848 907.5,801.2 984.9,799.5M907.5,801.2 892.2,789.7"/><path class="h" d="M892.2,836.4 969.6,834.7 984.9,846.3M969.6,834.7 969.6,788"/>
<path class="b" fill="#030000" d="M437.2,858.3 506.8,856.7 506.8,810 491.5,798.4 421.9,799.9 421.9,846.7Z"/><path class="e" d="M437.2,858.3 437.2,811.5 506.8,810M437.2,811.5 421.9,799.9"/><path class="h" d="M421.9,846.7 491.5,845.2 506.8,856.7M491.5,845.2 491.5,798.4"/>
<path class="b" fill="#f50000" d="M986,845.3 1063.4,843.6 1063.4,796.8 1048.1,785.2 970.7,786.9 970.7,833.7Z"/><path class="e" d="M986,845.3 986,798.5 1063.4,796.8M986,798.5 970.7,786.9"/><path class="h" d="M970.7,833.7 1048.1,832 1063.4,843.6M1048.1,832 1048.1,785.2"/>
<path class="b" fill="#f00000" d="M813.8,839.3 891.1,837.6 891.1,790.8 875.9,779.2 798.5,780.9 798.5,827.7Z"/><path class="e" d="M813.8,839.3 813.8,792.5 891.1,790.8M813.8,792.5 798.5,780.9"/><path class="h" d="M798.5,827.7 875.9,826 891.1,837.6M875.9,826 875.9,779.2"/>
<path class="b" fill="#0c0000" d="M459.3,816.2 536.7,814.5 536.7,767.7 521.4,756.2 444,757.9 444,804.6Z"/><path class="e" d="M459.3,816.2 459.3,769.4 536.7,767.7M459.3,769.4 444,757.9"/><path class="h" d="M444,804.6 521.4,802.9 536.7,814.5M521.4,802.9 521.4,756.2"/>
<path class="b" fill="#f00000" d="M908.8,800.5 986.1,798.8 986.1,752 970.9,740.5 893.5,742.2 893.5,788.9Z"/><path class="e" d="M908.8,800.5 908.8,753.8 986.1,752M908.8,753.8 893.5,742.2"/><path class="h" d="M893.5,788.9 970.9,787.2 986.1,798.8M970.9,787.2 970.9,740.5"/>
<path class="b" fill="#fa0000" d="M1143.8,793 1221.1,791.3 1221.1,744.6 1205.8,733 1128.5,734.7 1128.5,781.4Z"/><path class="e" d="M1143.8,793 1143.8,746.2 1221.1,744.6M1143.8,746.2 1128.5,734.7"/><path class="h" d="M1128.5,781.4 1205.8,779.7 1221.1,791.3M1205.8,779.7 1205.8,733"/>
<path class="b" fill="#f50000" d="M987.5,791.8 1064.9,790.1 1064.9,743.3 1049.6,731.7 972.2,733.4 972.2,780.2Z"/><path class="e" d="M987.5,791.8 987.5,745 1064.9,743.3M987.5,745 972.2,733.4"/><path class="h" d="M972.2,780.2 1049.6,778.5 1064.9,790.1M1049.6,778.5 1049.6,731.7"/>
<path class="b" fill="#410000" d="M672.5,796.8 749.9,795.1 749.9,748.3 734.6,736.7 657.2,738.4 657.2,785.2Z"/><path class="e" d="M672.5,796.8 672.5,750 749.9,748.3M672.5,750 657.2,738.4"/><path class="h" d="M657.2,785.2 734.6,783.5 749.9,795.1M734.6,783.5 734.6,736.7"/>
<path class="b" fill="#f00000" d="M830,791.8 907.4,790.1 907.4,743.3 892.1,731.7 814.7,733.4 814.7,780.2Z"/><path class="e" d="M830,791.8 830,745 907.4,743.3M830,745 814.7,733.4"/><path class="h" d="M814.7,780.2 892.1,778.5 907.4,790.1M892.1,778.5 892.1,731.7"/>
<path class="b" fill="#2d0000" d="M595,794.3 672.4,792.6 672.4,745.8 657.1,734.2 579.7,735.9 579.7,782.7Z"/><path class="e" d="M595,794.3 595,747.5 672.4,745.8M595,747.5 579.7,735.9"/><path class="h" d="M579.7,782.7 657.1,781 672.4,792.6M657.1,781 657.1,734.2"/>
<path class="b" fill="#fa0000" d="M1065,780.5 1142.4,778.8 1142.4,732 1127.1,720.5 1049.7,722.2 1049.7,768.9Z"/><path class="e" d="M1065,780.5 1065,733.8 1142.4,732M1065,733.8 1049.7,722.2"/><path class="h" d="M1049.7,768.9 1127.1,767.2 1142.4,778.8M1127.1,767.2 1127.1,720.5"/>
<path class="b" fill="#4b0000" d="M737.5,783 814.9,781.3 814.9,734.5 799.6,723 722.2,724.7 722.2,771.4Z"/><path class="e" d="M737.5,783 737.5,736.2 814.9,734.5M737.5,736.2 722.2,724.7"/><path class="h" d="M722.2,771.4 799.6,769.7 814.9,781.3M799.6,769.7 799.6,723"/>
<path class="b" fill="#eb0000" d="M907.5,725.5 984.9,723.8 984.9,677 969.6,665.5 892.2,667.2 892.2,713.9Z"/><path class="e" d="M907.5,725.5 907.5,678.8 984.9,677M907.5,678.8 892.2,667.2"/><path class="h" d="M892.2,713.9 969.6,712.2 984.9,723.8M969.6,712.2 969.6,665.5"/>
<path class="b" fill="#280000" d="M516.2,730.5 593.6,728.8 593.6,682 578.4,670.5 501,672.2 501,718.9Z"/><path class="e" d="M516.2,730.5 516.2,683.8 593.6,682M516.2,683.8 501,672.2"/><path class="h" d="M501,718.9 578.4,717.2 593.6,728.8M578.4,717.2 578.4,670.5"/>
<path class="b" fill="#5f0000" d="M672.5,720.5 749.9,718.8 749.9,672.1 734.6,660.5 657.2,662.2 657.2,708.9Z"/><path class="e" d="M672.5,720.5 672.5,673.8 749.9,672.1M672.5,673.8 657.2,662.2"/><path class="h" d="M657.2,708.9 734.6,707.2 749.9,718.8M734.6,707.2 734.6,660.5"/>
<path class="b" fill="#8c0000" d="M751.2,718 828.6,716.3 828.6,669.6 813.4,658 736,659.7 736,706.4Z"/><path class="e" d="M751.2,718 751.2,671.2 828.6,669.6M751.2,671.2 736,659.7"/><path class="h" d="M736,706.4 813.4,704.7 828.6,716.3M813.4,704.7 813.4,658"/>
<path class="b" fill="#fa0000" d="M1065,710.5 1142.4,708.8 1142.4,662 1127.1,650.5 1049.7,652.2 1049.7,698.9Z"/><path class="e" d="M1065,710.5 1065,663.8 1142.4,662M1065,663.8 1049.7,652.2"/><path class="h" d="M1049.7,698.9 1127.1,697.2 1142.4,708.8M1127.1,697.2 1127.1,650.5"/>
<path class="b" fill="#030000" d="M437.2,714.4 487,713.3 487,666.5 471.8,654.9 421.9,656 421.9,702.8Z"/><path class="e" d="M437.2,714.4 437.2,667.6 487,666.5M437.2,667.6 421.9,656"/><path class="h" d="M421.9,702.8 471.8,701.7 487,713.3M471.8,701.7 471.8,654.9"/>
<path class="b" fill="#2a0000" d="M526.5,668.8 603.9,667.1 603.9,620.3 588.6,608.7 511.2,610.4 511.2,657.2Z"/><path class="e" d="M526.5,668.8 526.5,622 603.9,620.3M526.5,622 511.2,610.4"/><path class="h" d="M511.2,657.2 588.6,655.5 603.9,667.1M588.6,655.5 588.6,608.7"/>
<path class="b" fill="#f50000" d="M996.2,656.8 1073.6,655.1 1073.6,608.3 1058.3,596.7 981,598.4 981,645.2Z"/><path class="e" d="M996.2,656.8 996.2,610 1073.6,608.3M996.2,610 981,598.4"/><path class="h" d="M981,645.2 1058.3,643.5 1073.6,655.1M1058.3,643.5 1058.3,596.7"/>
<path class="b" fill="#030000" d="M437.2,665.6 506.6,664 506.6,617.3 491.3,605.7 421.9,607.2 421.9,654Z"/><path class="e" d="M437.2,665.6 437.2,618.8 506.6,617.3M437.2,618.8 421.9,607.2"/><path class="h" d="M421.9,654 491.3,652.5 506.6,664M491.3,652.5 491.3,605.7"/>
<path class="f" fill="#fa0000" d="M1153.8,646.8 1223.8,645.2 1223.8,598.5 1208.5,586.9 1138.5,588.4 1138.5,635.2Z"/><path class="e" d="M1208.5,586.9 1138.5,588.4 1138.5,635.2 1153.8,646.8 1223.8,645.2M1153.8,646.8 1153.8,600 1223.8,598.5M1153.8,600 1138.5,588.4"/><path class="h" d="M1138.5,635.2 1208.5,633.6 1223.8,645.2M1208.5,633.6 1208.5,586.9"/>
<polygon fill="url(#g34)" points="1207.5,645.6 1223.8,645.2 1223.8,598.5 1207.5,598.8"/><polygon fill="url(#g35)" points="1207.5,598.8 1223.8,598.5 1208.5,586.9 1192.3,587.2"/>
<path class="b" fill="#960000" d="M823.8,653 901.1,651.3 901.1,604.5 885.9,593 808.5,594.7 808.5,641.4Z"/><path class="e" d="M823.8,653 823.8,606.2 901.1,604.5M823.8,606.2 808.5,594.7"/><path class="h" d="M808.5,641.4 885.9,639.7 901.1,651.3M885.9,639.7 885.9,593"/>
<path class="b" fill="#fa0000" d="M1073.8,646.8 1151.1,645.1 1151.1,598.3 1135.8,586.7 1058.5,588.4 1058.5,635.2Z"/><path class="e" d="M1073.8,646.8 1073.8,600 1151.1,598.3M1073.8,600 1058.5,588.4"/><path class="h" d="M1058.5,635.2 1135.8,633.5 1151.1,645.1M1135.8,633.5 1135.8,586.7"/>
<path class="b" fill="#370000" d="M603.8,654.8 681.1,653.1 681.1,606.3 665.9,594.7 588.5,596.4 588.5,643.2Z"/><path class="e" d="M603.8,654.8 603.8,608 681.1,606.3M603.8,608 588.5,596.4"/><path class="h" d="M588.5,643.2 665.9,641.5 681.1,653.1M665.9,641.5 665.9,594.7"/>
<path class="b" fill="#e10000" d="M903.8,637.8 981.1,636.1 981.1,589.3 965.9,577.7 888.5,579.4 888.5,626.2Z"/><path class="e" d="M903.8,637.8 903.8,591 981.1,589.3M903.8,591 888.5,579.4"/><path class="h" d="M888.5,626.2 965.9,624.5 981.1,636.1M965.9,624.5 965.9,577.7"/>
<path class="b" fill="#780000" d="M761.2,604.3 838.6,602.6 838.6,555.8 823.4,544.2 746,545.9 746,592.7Z"/><path class="e" d="M761.2,604.3 761.2,557.5 838.6,555.8M761.2,557.5 746,545.9"/><path class="h" d="M746,592.7 823.4,591 838.6,602.6M823.4,591 823.4,544.2"/>
<path class="f" fill="#fa0000" d="M1152.5,591.8 1223.8,590.2 1223.8,543.4 1208.5,531.9 1137.2,533.4 1137.2,580.2Z"/><path class="e" d="M1208.5,531.9 1137.2,533.4 1137.2,580.2 1152.5,591.8 1223.8,590.2M1152.5,591.8 1152.5,545 1223.8,543.4M1152.5,545 1137.2,533.4"/><path class="h" d="M1137.2,580.2 1208.5,578.6 1223.8,590.2M1208.5,578.6 1208.5,531.9"/>
<polygon fill="url(#g36)" points="1207.5,590.6 1223.8,590.2 1223.8,543.4 1207.5,543.8"/><polygon fill="url(#g37)" points="1207.5,543.8 1223.8,543.4 1208.5,531.9 1192.3,532.2"/>
<path class="b" fill="#1e0000" d="M447.5,606.8 524.9,605.1 524.9,558.3 509.6,546.7 432.2,548.4 432.2,595.2Z"/><path class="e" d="M447.5,606.8 447.5,560 524.9,558.3M447.5,560 432.2,548.4"/><path class="h" d="M432.2,595.2 509.6,593.5 524.9,605.1M509.6,593.5 509.6,546.7"/>
<path class="b" fill="#fa0000" d="M1075,581.8 1152.4,580.1 1152.4,533.3 1137.1,521.7 1059.7,523.4 1059.7,570.2Z"/><path class="e" d="M1075,581.8 1075,535 1152.4,533.3M1075,535 1059.7,523.4"/><path class="h" d="M1059.7,570.2 1137.1,568.5 1152.4,580.1M1137.1,568.5 1137.1,521.7"/>
<path class="b" fill="#7d0000" d="M683.8,586.8 761.1,585.1 761.1,538.3 745.9,526.7 668.5,528.4 668.5,575.2Z"/><path class="e" d="M683.8,586.8 683.8,540 761.1,538.3M683.8,540 668.5,528.4"/><path class="h" d="M668.5,575.2 745.9,573.5 761.1,585.1M745.9,573.5 745.9,526.7"/>
<path class="b" fill="#550000" d="M589,586.3 666.4,584.6 666.4,537.8 651.1,526.2 573.7,527.9 573.7,574.7Z"/><path class="e" d="M589,586.3 589,539.5 666.4,537.8M589,539.5 573.7,527.9"/><path class="h" d="M573.7,574.7 651.1,573 666.4,584.6M651.1,573 651.1,526.2"/>
<path class="b" fill="#320000" d="M510,587.8 587.4,586.1 587.4,539.3 572.1,527.7 494.7,529.4 494.7,576.2Z"/><path class="e" d="M510,587.8 510,541 587.4,539.3M510,541 494.7,529.4"/><path class="h" d="M494.7,576.2 572.1,574.5 587.4,586.1M572.1,574.5 572.1,527.7"/>
<path class="b" fill="#dc0000" d="M903.8,575.5 981.1,573.8 981.1,527 965.9,515.5 888.5,517.2 888.5,563.9Z"/><path class="e" d="M903.8,575.5 903.8,528.8 981.1,527M903.8,528.8 888.5,517.2"/><path class="h" d="M888.5,563.9 965.9,562.2 981.1,573.8M965.9,562.2 965.9,515.5"/>
<path class="b" fill="#eb0000" d="M980.5,569.3 1057.9,567.6 1057.9,520.8 1042.6,509.2 965.2,510.9 965.2,557.7Z"/><path class="e" d="M980.5,569.3 980.5,522.5 1057.9,520.8M980.5,522.5 965.2,510.9"/><path class="h" d="M965.2,557.7 1042.6,556 1057.9,567.6M1042.6,556 1042.6,509.2"/>
<path class="b" fill="#690000" d="M675,534.3 752.4,532.6 752.4,485.8 737.1,474.2 659.7,475.9 659.7,522.7Z"/><path class="e" d="M675,534.3 675,487.5 752.4,485.8M675,487.5 659.7,475.9"/><path class="h" d="M659.7,522.7 737.1,521 752.4,532.6M737.1,521 737.1,474.2"/>
<path class="b" fill="#550000" d="M595,530.5 672.4,528.8 672.4,482 657.1,470.5 579.7,472.2 579.7,518.9Z"/><path class="e" d="M595,530.5 595,483.8 672.4,482M595,483.8 579.7,472.2"/><path class="h" d="M579.7,518.9 657.1,517.2 672.4,528.8M657.1,517.2 657.1,470.5"/>
<path class="b" fill="#fa0000" d="M1065,519.3 1142.4,517.6 1142.4,470.8 1127.1,459.2 1049.7,460.9 1049.7,507.7Z"/><path class="e" d="M1065,519.3 1065,472.5 1142.4,470.8M1065,472.5 1049.7,460.9"/><path class="h" d="M1049.7,507.7 1127.1,506 1142.4,517.6M1127.1,506 1127.1,459.2"/>
<path class="b" fill="#a50000" d="M831.2,520.5 908.6,518.8 908.6,472.1 893.4,460.5 816,462.2 816,508.9Z"/><path class="e" d="M831.2,520.5 831.2,473.8 908.6,472.1M831.2,473.8 816,462.2"/><path class="h" d="M816,508.9 893.4,507.2 908.6,518.8M893.4,507.2 893.4,460.5"/>
<path class="b" fill="#8c0000" d="M753.8,521.8 831.1,520.1 831.1,473.3 815.9,461.7 738.5,463.4 738.5,510.2Z"/><path class="e" d="M753.8,521.8 753.8,475 831.1,473.3M753.8,475 738.5,463.4"/><path class="h" d="M738.5,510.2 815.9,508.5 831.1,520.1M815.9,508.5 815.9,461.7"/>
<path class="b" fill="#fa0000" d="M1143.8,511.8 1221.1,510.1 1221.1,463.3 1205.8,451.7 1128.5,453.4 1128.5,500.2Z"/><path class="e" d="M1143.8,511.8 1143.8,465 1221.1,463.3M1143.8,465 1128.5,453.4"/><path class="h" d="M1128.5,500.2 1205.8,498.5 1221.1,510.1M1205.8,498.5 1205.8,451.7"/>
<path class="b" fill="#eb0000" d="M987,512.3 1064.4,510.6 1064.4,463.8 1049.1,452.2 971.7,453.9 971.7,500.7Z"/><path class="e" d="M987,512.3 987,465.5 1064.4,463.8M987,465.5 971.7,453.9"/><path class="h" d="M971.7,500.7 1049.1,499 1064.4,510.6M1049.1,499 1049.1,452.2"/>
<path class="b" fill="#260000" d="M515,521.8 592.4,520.1 592.4,473.3 577.1,461.7 499.7,463.4 499.7,510.2Z"/><path class="e" d="M515,521.8 515,475 592.4,473.3M515,475 499.7,463.4"/><path class="h" d="M499.7,510.2 577.1,508.5 592.4,520.1M577.1,508.5 577.1,461.7"/>
<path class="b" fill="#af0000" d="M908.8,513 986.1,511.3 986.1,464.5 970.9,453 893.5,454.7 893.5,501.4Z"/><path class="e" d="M908.8,513 908.8,466.2 986.1,464.5M908.8,466.2 893.5,454.7"/><path class="h" d="M893.5,501.4 970.9,499.7 986.1,511.3M970.9,499.7 970.9,453"/>
<path class="b" fill="#030000" d="M437,511.4 499.9,510.1 499.9,463.3 484.6,451.7 421.8,453.1 421.8,499.9Z"/><path class="e" d="M437,511.4 437,464.7 499.9,463.3M437,464.7 421.8,453.1"/><path class="h" d="M421.8,499.9 484.6,498.5 499.9,510.1M484.6,498.5 484.6,451.7"/>
<path class="b" fill="#f50000" d="M1000,456.8 1077.4,455.1 1077.4,408.3 1062.1,396.7 984.7,398.4 984.7,445.2Z"/><path class="e" d="M1000,456.8 1000,410 1077.4,408.3M1000,410 984.7,398.4"/><path class="h" d="M984.7,445.2 1062.1,443.5 1077.4,455.1M1062.1,443.5 1062.1,396.7"/>
<path class="b" fill="#910000" d="M764,460.5 841.4,458.8 841.4,412.1 826.1,400.5 748.7,402.2 748.7,448.9Z"/><path class="e" d="M764,460.5 764,413.8 841.4,412.1M764,413.8 748.7,402.2"/><path class="h" d="M748.7,448.9 826.1,447.2 841.4,458.8M826.1,447.2 826.1,400.5"/>
<path class="b" fill="#730000" d="M608.8,455.5 686.1,453.8 686.1,407 670.9,395.5 593.5,397.2 593.5,443.9Z"/><path class="e" d="M608.8,455.5 608.8,408.8 686.1,407M608.8,408.8 593.5,397.2"/><path class="h" d="M593.5,443.9 670.9,442.2 686.1,453.8M670.9,442.2 670.9,395.5"/>
<path class="b" fill="#200000" d="M515,446.8 592.4,445.1 592.4,398.3 577.1,386.7 499.7,388.4 499.7,435.2Z"/><path class="e" d="M515,446.8 515,400 592.4,398.3M515,400 499.7,388.4"/><path class="h" d="M499.7,435.2 577.1,433.5 592.4,445.1M577.1,433.5 577.1,386.7"/>
<path class="b" fill="#a50000" d="M850,393 927.4,391.3 927.4,344.5 912.1,333 834.7,334.7 834.7,381.4Z"/><path class="e" d="M850,393 850,346.2 927.4,344.5M850,346.2 834.7,334.7"/><path class="h" d="M834.7,381.4 912.1,379.7 927.4,391.3M912.1,379.7 912.1,333"/>
<path class="b" fill="#640000" d="M613.8,398 691.1,396.3 691.1,349.5 675.9,338 598.5,339.7 598.5,386.4Z"/><path class="e" d="M613.8,398 613.8,351.2 691.1,349.5M613.8,351.2 598.5,339.7"/><path class="h" d="M598.5,386.4 675.9,384.7 691.1,396.3M675.9,384.7 675.9,338"/>
<path class="b" fill="#870000" d="M1005,324.3 1082.4,322.6 1082.4,275.8 1067.1,264.2 989.7,265.9 989.7,312.7Z"/><path class="e" d="M1005,324.3 1005,277.5 1082.4,275.8M1005,277.5 989.7,265.9"/><path class="h" d="M989.7,312.7 1067.1,311 1082.4,322.6M1067.1,311 1067.1,264.2"/>
<path class="b" fill="#6e0000" d="M691.2,330.5 768.6,328.8 768.6,282 753.4,270.5 676,272.2 676,318.9Z"/><path class="e" d="M691.2,330.5 691.2,283.8 768.6,282M691.2,283.8 676,272.2"/><path class="h" d="M676,318.9 753.4,317.2 768.6,328.8M753.4,317.2 753.4,270.5"/>
<path class="b" fill="#690000" d="M612.5,331.8 689.9,330.1 689.9,283.3 674.6,271.7 597.2,273.4 597.2,320.2Z"/><path class="e" d="M612.5,331.8 612.5,285 689.9,283.3M612.5,285 597.2,273.4"/><path class="h" d="M597.2,320.2 674.6,318.5 689.9,330.1M674.6,318.5 674.6,271.7"/>
<path class="b" fill="#640000" d="M535,333 612.4,331.3 612.4,284.6 597.1,273 519.7,274.7 519.7,321.4Z"/><path class="e" d="M535,333 535,286.2 612.4,284.6M535,286.2 519.7,274.7"/><path class="h" d="M519.7,321.4 597.1,319.7 612.4,331.3M597.1,319.7 597.1,273"/>
<path class="f" fill="#fa0000" d="M1162,317.3 1223.8,315.9 1223.8,269.1 1208.5,257.6 1146.7,258.9 1146.7,305.7Z"/><path class="e" d="M1208.5,257.6 1146.7,258.9 1146.7,305.7 1162,317.3 1223.8,315.9M1162,317.3 1162,270.5 1223.8,269.1M1162,270.5 1146.7,258.9"/><path class="h" d="M1146.7,305.7 1208.5,304.3 1223.8,315.9M1208.5,304.3 1208.5,257.6"/>
<polygon fill="url(#g38)" points="1207.5,316.3 1223.8,315.9 1223.8,269.1 1207.5,269.5"/><polygon fill="url(#g39)" points="1207.5,269.5 1223.8,269.1 1208.5,257.6 1192.3,257.9"/>
</g>
<polygon points="358.7,958.1 437,956.4 437,273.7 284.3,157.9 206,159.7 206,842.3" fill="#00cc00" fill-opacity=".5"/>
<path fill="none" stroke="#002800" stroke-opacity=".6" stroke-width="1" d="M206,842.3 284.3,840.6M437,956.4 284.3,840.6M284.3,840.6 284.3,157.9"/>
<g clip-path="url(#cl)">
<polygon fill="#000" points="240.6,178.1 312.5,178.1 312.5,229 314.4,228.7 361,228.7 372.7,237.2 388.3,237.2 388.3,274.2 436,273.5
436,342 418,342 418,403 415,403 415,463 383,463 383,473 428,473 428,534 400,534 400,547 423,547 423,597 419,597 419,672 415.5,672 415.5,719 402,723 402,773 384.4,773 384.4,785 436,828 436,878.3 419.4,878.3 419.4,928.9
359.2,928.9 359.2,918 333.9,917.2 320.3,905.6 320.3,887.3 287.2,886.1 273.6,874.4 273.6,839.4 244.4,838.3 230.8,823.9 230.8,776 221.9,765.6 221.9,721.6 238.6,721.6 238.6,711.1 219.2,711.1 208.3,701.4 207.5,652.8 238.6,652.8 238.6,604.2 273.6,601.4 218,557.5 218,509.4 230.8,503.6 218,490 218,441.4 252.2,441.4 252.2,420.8 221.1,420.8 208.3,412.2 208.3,363.6 230.8,362.4 221.1,352 221.1,308 258.1,308 258.1,265.2 300.8,265.2 300.8,237.2 254.2,237.2 240.6,223.6"/>
</g>
<polygon points="358.7,958.1 437,956.4 437,273.7 284.3,157.9 206,159.7 206,842.3" fill="#00cc00" fill-opacity=".5"/>
<path fill="none" stroke="#001400" stroke-opacity=".95" stroke-width="1.45" stroke-linejoin="round" d="M358.7,958.1 437,956.4M358.7,958.1 206,842.3M358.7,958.1 358.7,275.4M358.7,275.4 437,273.7M358.7,275.4 206,159.7M206,842.3 206,159.7M206,159.7 284.3,157.9M437,956.4 437,273.7M437,273.7 284.3,157.9"/>
<path fill="none" stroke="#001400" stroke-opacity=".95" stroke-width="1.45" stroke-linejoin="round" d="M1223.8,939.1 1301,937.4 1301,254.7 1223.8,256.4ZM1223.8,256.4 1071,140.6 1148.3,138.9 1301,254.7"/>
<rect x="1323.7" y="168.7" width="45.6" height="517.6" fill="url(#cb)" stroke="#3a0d0d" stroke-width="1.4"/>
<text x="155.5" y="824.8" font-size="32.5" text-anchor="end">0</text>
<text x="155.5" y="703.0" font-size="32.5" text-anchor="end">5</text>
<text x="155.5" y="581.2" font-size="32.5" text-anchor="end">10</text>
<text x="155.5" y="459.4" font-size="32.5" text-anchor="end">15</text>
<text x="155.5" y="337.6" font-size="32.5" text-anchor="end">20</text>
<text x="155.5" y="215.9" font-size="32.5" text-anchor="end">25</text>
<text x="155.5" y="94.1" font-size="32.5" text-anchor="end">30</text>
<text x="163.5" y="880" font-size="32.5" text-anchor="end">0.5</text>
<text x="312.5" y="994" font-size="32.5" text-anchor="end">0</text>
<text x="468.75" y="1016" font-size="32.5" text-anchor="middle">0</text>
<text x="1240" y="997.5" font-size="32.5" text-anchor="middle">0.5</text>
<text transform="translate(90.8,469.2) rotate(-90)" font-size="44.5" text-anchor="middle"><tspan font-style="italic">z</tspan> (nm)</text>
<text x="72.5" y="1038" font-size="45"><tspan font-style="italic">y</tspan> (<tspan font-style="italic">&#956;</tspan>m)</text>
<text x="706" y="1066.5" font-size="45"><tspan font-style="italic">x</tspan> (<tspan font-style="italic">&#956;</tspan>m)</text>
<text x="1387" y="175.6" font-size="42" font-style="italic">V</text>
<text x="1413.3" y="196" font-size="34" font-style="italic">d</text>
<text x="1387" y="693.4" font-size="42" font-style="italic">V</text>
<text x="1413.3" y="714" font-size="34" font-style="italic">s</text>

</svg>
</body></html>
